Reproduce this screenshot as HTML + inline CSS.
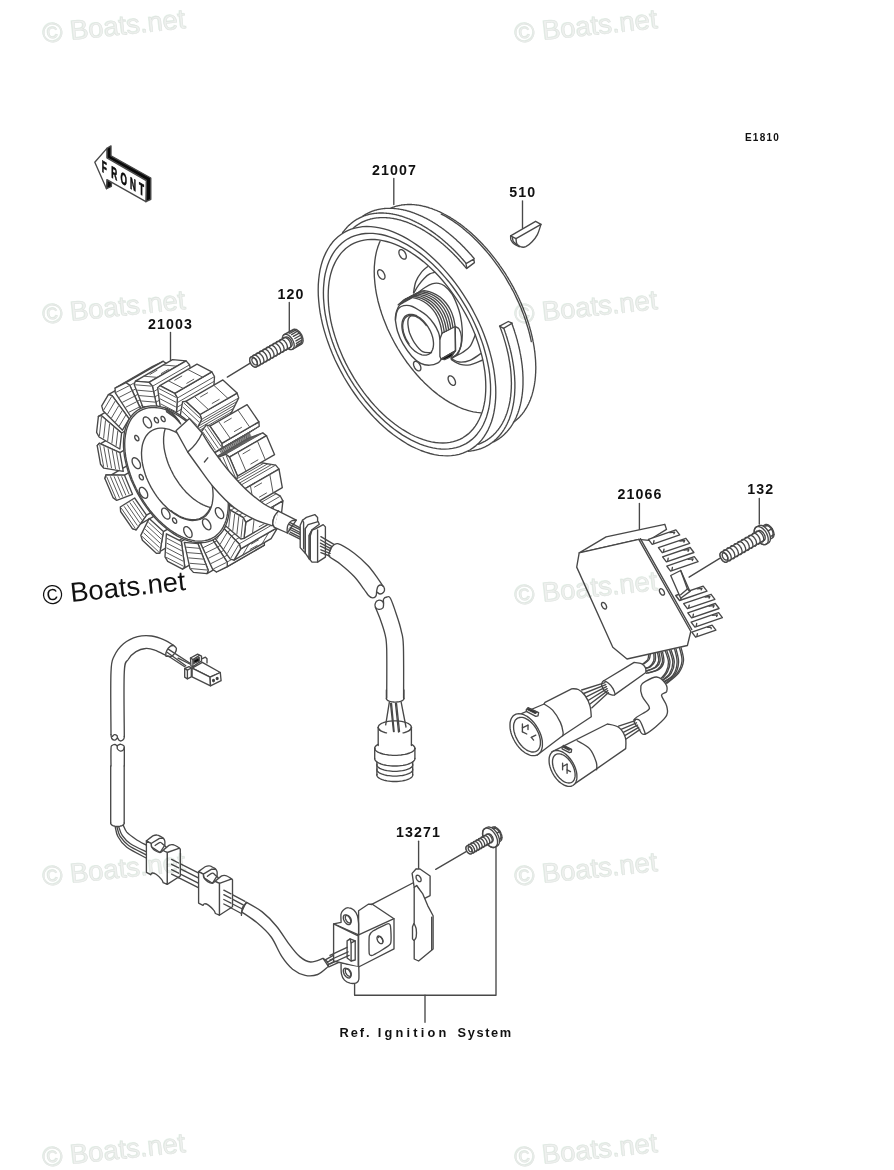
<!DOCTYPE html>
<html><head><meta charset="utf-8"><title>Generator - Parts Diagram E1810</title>
<style>
html,body{margin:0;padding:0;background:#fff;}
body{width:894px;height:1170px;overflow:hidden;position:relative;font-family:"Liberation Sans",sans-serif;}
svg{position:absolute;left:0;top:0;display:block}
svg path, svg ellipse, svg circle, svg line, svg polygon, svg polyline, svg rect{fill:none;stroke:#484848;stroke-width:1.35;stroke-linecap:round;stroke-linejoin:round}
svg .w{fill:#fff}
svg .h{stroke-width:1;stroke:#5a5a5a}
svg .k{fill:#0a0a0a}
svg text{fill:#111;stroke:none}
svg .ts{font-family:"Liberation Sans",sans-serif}
svg .tm{font-family:"Liberation Mono",monospace}
.wm{position:absolute;mix-blend-mode:multiply;font-size:27.4px;color:#eef0ee;-webkit-text-stroke:0.6px #dfe4e0;white-space:nowrap;transform-origin:0 100%;transform:rotate(-6deg);line-height:1;text-shadow:-0.8px -0.8px 0 #e4f1e8}
.wm.dark{color:#111;text-shadow:none;-webkit-text-stroke:0}
</style></head><body>
<svg width="894" height="1170" viewBox="0 0 894 1170">
<text x="372.00 381.00 389.99 398.99 407.99" y="174.5" font-size="14.2" font-weight="bold" class="ts" >21007</text>
<text x="509.30 518.30 527.29" y="197.0" font-size="14.2" font-weight="bold" class="ts" >510</text>
<text x="277.50 286.50 295.49" y="298.5" font-size="14.2" font-weight="bold" class="ts" >120</text>
<text x="148.00 157.00 165.99 174.99 183.99" y="328.5" font-size="14.2" font-weight="bold" class="ts" >21003</text>
<text x="617.40 626.40 635.39 644.39 653.39" y="499.0" font-size="14.2" font-weight="bold" class="ts" >21066</text>
<text x="747.20 756.20 765.19" y="494.2" font-size="14.2" font-weight="bold" class="ts" >132</text>
<text x="396.00 405.00 413.99 422.99 431.99" y="836.6" font-size="14.2" font-weight="bold" class="ts" >13271</text>
<text x="745.00 752.87 759.63 766.39 773.15" y="141.2" font-size="10" font-weight="bold" class="ts" >E1810</text>
<text x="339.40 350.64 359.76 366.03" y="1036.5" font-size="12.8" font-weight="bold" class="ts" >Ref.</text>
<text x="377.70 384.46 395.47 406.49 413.25 420.71 427.47 438.49" y="1036.5" font-size="12.8" font-weight="bold" class="ts" >Ignition</text>
<text x="457.50 467.68 476.44 485.20 491.10 499.86" y="1036.5" font-size="12.8" font-weight="bold" class="ts" >System</text>
<path d="M393.8 178.5 L393.8 204.5"/>
<path d="M469.8 450.0 L466.4 451.7 L462.9 453.2 L459.2 454.3 L455.4 455.1 L451.4 455.7 L447.3 455.9 L443.1 455.7 L438.8 455.3 L434.4 454.6 L430.0 453.5 L425.5 452.2 L420.9 450.5 L416.3 448.5 L411.6 446.3 L407.0 443.8 L402.4 440.9 L397.7 437.8 L393.1 434.5 L388.5 430.9 L384.0 427.0 L379.6 422.9 L375.2 418.6 L370.9 414.0 L366.7 409.3 L362.6 404.4 L358.6 399.3 L354.8 394.0 L351.1 388.6 L347.6 383.1 L344.2 377.5 L341.0 371.7 L338.0 365.9 L335.1 360.0 L332.5 354.1 L330.1 348.1 L327.9 342.1 L325.9 336.1 L324.1 330.1 L322.5 324.1 L321.2 318.2 L320.1 312.4 L319.3 306.6 L318.7 300.9 L318.3 295.4 L318.2 289.9 L318.3 284.6 L318.7 279.5 L319.3 274.5 L320.1 269.7 L321.2 265.1 L322.5 260.7 L324.1 256.6 L325.9 252.6 L327.9 249.0 L330.1 245.5 L332.5 242.3 L335.1 239.4 L338.0 236.8 L341.0 234.5 L344.2 232.4 L347.6 230.7 L351.1 229.2 L354.8 228.1 L358.6 227.3 L362.6 226.7 L366.7 226.5 L370.9 226.7 L375.2 227.1 L379.6 227.8 L384.0 228.9 L388.5 230.2 L393.1 231.9 L397.7 233.9 L402.4 236.1 L407.0 238.6 L411.6 241.5 L416.3 244.6 L420.9 247.9 L425.5 251.5 L430.0 255.4 L434.4 259.5 L438.8 263.8 L443.1 268.4 L447.3 273.1 L451.4 278.0 L455.4 283.1 L459.2 288.4 L462.9 293.8 L466.4 299.3 L469.8 304.9 L473.0 310.7 L476.0 316.5 L478.9 322.4 L481.5 328.3 L483.9 334.3 L486.1 340.3 L488.1 346.3 L489.9 352.3 L491.5 358.3 L492.8 364.2 L493.9 370.0 L494.7 375.8 L495.3 381.5 L495.7 387.0 L495.8 392.5 L495.7 397.8 L495.3 402.9 L494.7 407.9 L493.9 412.7 L492.8 417.3 L491.5 421.7 L489.9 425.8 L488.1 429.8 L486.1 433.4 L483.9 436.9 L481.5 440.1 L478.9 443.0 L476.0 445.6 L473.0 447.9 L469.8 450.0 Z"/>
<path d="M466.1 443.6 L462.9 445.2 L459.6 446.6 L456.1 447.6 L452.5 448.4 L448.8 448.9 L444.9 449.1 L441.0 449.0 L437.0 448.6 L432.8 447.9 L428.6 446.9 L424.4 445.6 L420.1 444.1 L415.7 442.2 L411.4 440.1 L407.0 437.7 L402.6 435.1 L398.3 432.1 L393.9 429.0 L389.6 425.6 L385.4 421.9 L381.2 418.1 L377.0 414.0 L373.0 409.7 L369.1 405.3 L365.2 400.7 L361.5 395.9 L357.9 390.9 L354.4 385.8 L351.1 380.6 L347.9 375.3 L344.9 369.9 L342.0 364.4 L339.4 358.9 L336.9 353.3 L334.6 347.7 L332.5 342.0 L330.6 336.4 L329.0 330.7 L327.5 325.1 L326.3 319.6 L325.2 314.1 L324.4 308.6 L323.9 303.3 L323.5 298.1 L323.4 292.9 L323.5 288.0 L323.9 283.1 L324.4 278.4 L325.2 273.9 L326.3 269.6 L327.5 265.5 L329.0 261.6 L330.6 257.9 L332.5 254.4 L334.6 251.2 L336.9 248.2 L339.4 245.4 L342.0 243.0 L344.9 240.8 L347.9 238.8 L351.1 237.2 L354.4 235.8 L357.9 234.8 L361.5 234.0 L365.2 233.5 L369.1 233.3 L373.0 233.4 L377.0 233.8 L381.2 234.5 L385.4 235.5 L389.6 236.8 L393.9 238.3 L398.3 240.2 L402.6 242.3 L407.0 244.7 L411.4 247.3 L415.7 250.3 L420.1 253.4 L424.4 256.8 L428.6 260.5 L432.8 264.3 L437.0 268.4 L441.0 272.7 L444.9 277.1 L448.8 281.7 L452.5 286.5 L456.1 291.5 L459.6 296.6 L462.9 301.8 L466.1 307.1 L469.1 312.5 L472.0 318.0 L474.6 323.5 L477.1 329.1 L479.4 334.7 L481.5 340.4 L483.4 346.0 L485.0 351.7 L486.5 357.3 L487.7 362.8 L488.8 368.3 L489.6 373.8 L490.1 379.1 L490.5 384.3 L490.6 389.5 L490.5 394.4 L490.1 399.3 L489.6 404.0 L488.8 408.5 L487.7 412.8 L486.5 416.9 L485.0 420.8 L483.4 424.5 L481.5 428.0 L479.4 431.2 L477.1 434.2 L474.6 437.0 L472.0 439.4 L469.1 441.6 L466.1 443.6 Z"/>
<path d="M462.8 437.8 L459.8 439.3 L456.6 440.6 L453.3 441.6 L449.9 442.3 L446.4 442.8 L442.8 443.0 L439.1 442.9 L435.3 442.5 L431.4 441.8 L427.4 440.9 L423.4 439.7 L419.3 438.2 L415.2 436.5 L411.1 434.5 L407.0 432.2 L402.9 429.7 L398.8 427.0 L394.7 424.0 L390.6 420.8 L386.6 417.4 L382.6 413.7 L378.7 409.9 L374.9 405.9 L371.2 401.7 L367.6 397.3 L364.1 392.8 L360.7 388.1 L357.4 383.3 L354.2 378.4 L351.3 373.4 L348.4 368.3 L345.7 363.1 L343.2 357.9 L340.9 352.6 L338.7 347.3 L336.8 342.0 L335.0 336.6 L333.4 331.3 L332.0 326.0 L330.8 320.8 L329.9 315.6 L329.1 310.5 L328.6 305.4 L328.3 300.5 L328.2 295.7 L328.3 291.0 L328.6 286.4 L329.1 282.0 L329.9 277.7 L330.8 273.7 L332.0 269.8 L333.4 266.1 L335.0 262.6 L336.8 259.3 L338.7 256.3 L340.9 253.4 L343.2 250.9 L345.7 248.5 L348.4 246.5 L351.2 244.6 L354.2 243.1 L357.4 241.8 L360.7 240.8 L364.1 240.1 L367.6 239.6 L371.2 239.4 L374.9 239.5 L378.7 239.9 L382.6 240.6 L386.6 241.5 L390.6 242.7 L394.7 244.2 L398.8 245.9 L402.9 247.9 L407.0 250.2 L411.1 252.7 L415.2 255.4 L419.3 258.4 L423.4 261.6 L427.4 265.0 L431.4 268.7 L435.3 272.5 L439.1 276.5 L442.8 280.7 L446.4 285.1 L449.9 289.6 L453.3 294.3 L456.6 299.1 L459.8 304.0 L462.7 309.0 L465.6 314.1 L468.3 319.3 L470.8 324.5 L473.1 329.8 L475.3 335.1 L477.2 340.4 L479.0 345.8 L480.6 351.1 L482.0 356.4 L483.2 361.6 L484.1 366.8 L484.9 371.9 L485.4 377.0 L485.7 381.9 L485.8 386.7 L485.7 391.4 L485.4 396.0 L484.9 400.4 L484.1 404.7 L483.2 408.7 L482.0 412.6 L480.6 416.3 L479.0 419.8 L477.2 423.1 L475.3 426.1 L473.1 429.0 L470.8 431.5 L468.3 433.9 L465.6 435.9 L462.8 437.8 Z"/>
<path d="M353.1 228.2 L353.5 227.9 L354.0 227.5 L354.4 227.1 L354.8 226.8 L355.3 226.4 L355.8 226.1 L356.2 225.7 L356.7 225.4 L357.1 225.1 L357.6 224.8 L358.1 224.5 L358.6 224.2 L359.1 223.9 L359.5 223.6 L360.0 223.3 L360.5 223.0 L361.0 222.7 L361.5 222.5 L362.0 222.2 L362.6 222.0 L363.1 221.7 L363.6 221.5 L364.1 221.3 L364.6 221.0 L365.2 220.8 L365.7 220.6 L366.2 220.4 L366.8 220.2 L367.3 220.0 L367.9 219.8 L368.4 219.7 L369.0 219.5 L369.5 219.3 L370.1 219.2 L370.6 219.0 L371.2 218.9 L371.8 218.8 L372.4 218.6 L372.9 218.5 L373.5 218.4 L374.1 218.3 L374.7 218.2 L375.3 218.1 L375.9 218.0 L376.4 217.9 L377.0 217.9 L377.6 217.8 L378.2 217.8 L378.8 217.7 L379.5 217.7 L380.1 217.6 L380.7 217.6 L381.3 217.6 L381.9 217.6 L382.5 217.6 L383.1 217.6 L383.8 217.6 L384.4 217.6 L385.0 217.6 L385.7 217.6 L386.3 217.7 L386.9 217.7 L387.6 217.8 L388.2 217.8 L388.9 217.9 L389.5 217.9 L390.1 218.0 L390.8 218.1 L391.4 218.2 L392.1 218.3 L392.7 218.4 L393.4 218.5 L394.1 218.6 L394.7 218.8 L395.4 218.9 L396.0 219.0 L396.7 219.2 L397.4 219.3 L398.0 219.5 L398.7 219.7 L399.4 219.8 L400.1 220.0 L400.7 220.2 L401.4 220.4 L402.1 220.6 L402.8 220.8 L403.4 221.0 L404.1 221.3 L404.8 221.5 L405.5 221.7 L406.2 222.0 L406.9 222.2 L407.5 222.5 L408.2 222.7 L408.9 223.0 L409.6 223.3 L410.3 223.6 L411.0 223.9 L411.7 224.2 L412.4 224.5 L413.0 224.8 L413.7 225.1 L414.4 225.4 L415.1 225.7 L415.8 226.1 L416.5 226.4 L417.2 226.8 L417.9 227.1 L418.6 227.5 L419.3 227.9 L420.0 228.2 L420.7 228.6 L421.4 229.0 L422.1 229.4 L422.8 229.8 L423.5 230.2 L424.2 230.6 L424.9 231.0 L425.6 231.5 L426.2 231.9 L426.9 232.3 L427.6 232.8 L428.3 233.2 L429.0 233.7 L429.7 234.1 L430.4 234.6 L431.1 235.1 L431.8 235.6 L432.5 236.0 L433.2 236.5 L433.9 237.0 L434.6 237.5 L435.2 238.0 L435.9 238.6 L436.6 239.1 L437.3 239.6 L438.0 240.1 L438.7 240.7 L439.4 241.2 L440.0 241.8 L440.7 242.3 L441.4 242.9 L442.1 243.5 L442.8 244.0 L443.4 244.6 L444.1 245.2 L444.8 245.8 L445.5 246.4 L446.1 247.0 L446.8 247.6 L447.5 248.2 L448.1 248.8 L448.8 249.4 L449.5 250.0 L450.1 250.7 L450.8 251.3 L451.4 251.9 L452.1 252.6 L452.8 253.2 L453.4 253.9 L454.1 254.5 L454.7 255.2 L455.4 255.9 L456.0 256.5 L456.7 257.2 L457.3 257.9 L457.9 258.6 L458.6 259.3 L459.2 260.0 L459.8 260.7 L460.5 261.4 L461.1 262.1 L461.7 262.8 L462.3 263.5 L463.0 264.2 L463.6 265.0 L464.2 265.7 L464.8 266.4 L465.4 267.2 L466.0 267.9 L466.6 268.6"/>
<path d="M342.6 232.7 L342.9 232.2 L343.3 231.7 L343.7 231.2 L344.0 230.8 L344.4 230.3 L344.8 229.8 L345.2 229.3 L345.6 228.9 L346.0 228.4 L346.4 228.0 L346.8 227.5 L347.2 227.1 L347.6 226.7 L348.0 226.2 L348.4 225.8 L348.9 225.4 L349.3 225.0 L349.7 224.6 L350.2 224.2 L350.6 223.8 L351.1 223.5 L351.5 223.1 L352.0 222.7 L352.4 222.4 L352.9 222.0 L353.4 221.7 L353.8 221.3 L354.3 221.0 L354.8 220.7 L355.3 220.3 L355.8 220.0 L356.3 219.7 L356.7 219.4 L357.2 219.1 L357.8 218.8 L358.3 218.6 L358.8 218.3 L359.3 218.0 L359.8 217.8 L360.3 217.5 L360.9 217.3 L361.4 217.0 L361.9 216.8 L362.5 216.6 L363.0 216.3 L363.5 216.1 L364.1 215.9 L364.6 215.7 L365.2 215.5 L365.8 215.3 L366.3 215.2 L366.9 215.0 L367.5 214.8 L368.0 214.7 L368.6 214.5 L369.2 214.4 L369.8 214.2 L370.3 214.1 L370.9 214.0 L371.5 213.9 L372.1 213.8 L372.7 213.7 L373.3 213.6 L373.9 213.5 L374.5 213.4 L375.1 213.3 L375.7 213.3 L376.4 213.2 L377.0 213.2 L377.6 213.1 L378.2 213.1 L378.8 213.0 L379.5 213.0 L380.1 213.0 L380.7 213.0 L381.4 213.0 L382.0 213.0 L382.6 213.0 L383.3 213.0 L383.9 213.1 L384.6 213.1 L385.2 213.1 L385.9 213.2 L386.5 213.2 L387.2 213.3 L387.8 213.4 L388.5 213.4 L389.2 213.5 L389.8 213.6 L390.5 213.7 L391.2 213.8 L391.8 213.9 L392.5 214.0 L393.2 214.2 L393.9 214.3 L394.5 214.4 L395.2 214.6 L395.9 214.7 L396.6 214.9 L397.2 215.1 L397.9 215.2 L398.6 215.4 L399.3 215.6 L400.0 215.8 L400.7 216.0 L401.4 216.2 L402.1 216.4 L402.8 216.6 L403.5 216.9 L404.2 217.1 L404.8 217.3 L405.5 217.6 L406.2 217.8 L406.9 218.1 L407.6 218.4 L408.3 218.7 L409.1 218.9 L409.8 219.2 L410.5 219.5 L411.2 219.8 L411.9 220.1 L412.6 220.4 L413.3 220.8 L414.0 221.1 L414.7 221.4 L415.4 221.8 L416.1 222.1 L416.8 222.5 L417.5 222.8 L418.2 223.2 L419.0 223.6 L419.7 224.0 L420.4 224.4 L421.1 224.7 L421.8 225.1 L422.5 225.6 L423.2 226.0 L423.9 226.4 L424.6 226.8 L425.3 227.2 L426.1 227.7 L426.8 228.1 L427.5 228.6 L428.2 229.0 L428.9 229.5 L429.6 230.0 L430.3 230.4 L431.0 230.9 L431.7 231.4 L432.4 231.9 L433.1 232.4 L433.8 232.9 L434.6 233.4 L435.3 233.9 L436.0 234.5 L436.7 235.0 L437.4 235.5 L438.1 236.1 L438.8 236.6 L439.5 237.1 L440.2 237.7 L440.9 238.3 L441.6 238.8 L442.3 239.4 L442.9 240.0 L443.6 240.6 L444.3 241.2 L445.0 241.8 L445.7 242.4 L446.4 243.0 L447.1 243.6 L447.8 244.2 L448.4 244.8 L449.1 245.4 L449.8 246.1 L450.5 246.7 L451.2 247.3 L451.8 248.0 L452.5 248.6 L453.2 249.3 L453.9 250.0 L454.5 250.6 L455.2 251.3 L455.9 252.0 L456.5 252.7 L457.2 253.3 L457.8 254.0 L458.5 254.7 L459.1 255.4 L459.8 256.1 L460.4 256.8 L461.1 257.6 L461.7 258.3 L462.4 259.0 L463.0 259.7 L463.7 260.5 L464.3 261.2 L464.9 261.9 L465.6 262.7 L466.2 263.4"/>
<path d="M363.1 215.8 L363.6 215.5 L364.0 215.3 L364.4 215.0 L364.8 214.8 L365.2 214.5 L365.7 214.3 L366.1 214.0 L366.5 213.8 L367.0 213.5 L367.4 213.3 L367.9 213.1 L368.3 212.9 L368.8 212.7 L369.2 212.5 L369.7 212.3 L370.1 212.1 L370.6 211.9 L371.0 211.7 L371.5 211.5 L372.0 211.3 L372.4 211.2 L372.9 211.0 L373.4 210.8 L373.8 210.7 L374.3 210.5 L374.8 210.4 L375.3 210.2 L375.8 210.1 L376.3 210.0 L376.8 209.8 L377.2 209.7 L377.7 209.6 L378.2 209.5 L378.7 209.4 L379.2 209.3 L379.7 209.2 L380.2 209.1 L380.8 209.0 L381.3 208.9 L381.8 208.8 L382.3 208.8 L382.8 208.7 L383.3 208.6 L383.8 208.6 L384.4 208.5 L384.9 208.5 L385.4 208.4 L386.0 208.4 L386.5 208.4 L387.0 208.4 L387.5 208.3 L388.1 208.3 L388.6 208.3 L389.2 208.3 L389.7 208.3 L390.2 208.3 L390.8 208.3 L391.3 208.3 L391.9 208.4 L392.4 208.4 L393.0 208.4 L393.5 208.4 L394.1 208.5 L394.7 208.5 L395.2 208.6 L395.8 208.6 L396.3 208.7 L396.9 208.8 L397.5 208.8 L398.0 208.9 L398.6 209.0 L399.2 209.1 L399.7 209.2 L400.3 209.3 L400.9 209.4 L401.4 209.5 L402.0 209.6 L402.6 209.7 L403.2 209.8 L403.8 210.0 L404.3 210.1 L404.9 210.2 L405.5 210.4 L406.1 210.5 L406.7 210.7 L407.2 210.8 L407.8 211.0 L408.4 211.2 L409.0 211.4 L409.6 211.5 L410.2 211.7 L410.8 211.9 L411.4 212.1 L412.0 212.3 L412.6 212.5 L413.1 212.7 L413.7 212.9 L414.3 213.1 L414.9 213.4 L415.5 213.6 L416.1 213.8 L416.7 214.1 L417.3 214.3 L417.9 214.5 L418.5 214.8 L419.1 215.1 L419.7 215.3 L420.3 215.6 L420.9 215.9 L421.5 216.1 L422.1 216.4 L422.7 216.7 L423.3 217.0 L423.9 217.3 L424.5 217.6 L425.1 217.9 L425.8 218.2 L426.4 218.5 L427.0 218.8 L427.6 219.1 L428.2 219.5 L428.8 219.8 L429.4 220.1 L430.0 220.5 L430.6 220.8 L431.2 221.2 L431.8 221.5 L432.4 221.9 L433.0 222.3 L433.6 222.6 L434.2 223.0 L434.8 223.4 L435.4 223.8 L436.0 224.2 L436.6 224.5 L437.2 224.9 L437.8 225.3 L438.5 225.7 L439.1 226.2 L439.7 226.6 L440.3 227.0 L440.9 227.4 L441.5 227.8 L442.1 228.3 L442.7 228.7 L443.3 229.1 L443.9 229.6 L444.5 230.0 L445.1 230.5 L445.7 230.9 L446.3 231.4 L446.9 231.9 L447.4 232.3 L448.0 232.8 L448.6 233.3 L449.2 233.8 L449.8 234.2 L450.4 234.7 L451.0 235.2 L451.6 235.7 L452.2 236.2 L452.8 236.7 L453.4 237.2 L453.9 237.8 L454.5 238.3 L455.1 238.8 L455.7 239.3 L456.3 239.8 L456.9 240.4 L457.4 240.9 L458.0 241.4 L458.6 242.0 L459.2 242.5 L459.7 243.1 L460.3 243.6 L460.9 244.2 L461.5 244.8 L462.0 245.3 L462.6 245.9 L463.2 246.5 L463.7 247.0 L464.3 247.6 L464.9 248.2 L465.4 248.8 L466.0 249.4 L466.5 250.0 L467.1 250.6 L467.7 251.2 L468.2 251.8 L468.8 252.4 L469.3 253.0 L469.9 253.6 L470.4 254.2 L471.0 254.8 L471.5 255.4 L472.0 256.1 L472.6 256.7 L473.1 257.3 L473.7 257.9 L474.2 258.6"/>
<path d="M499.8 326.2 L500.2 327.2 L500.5 328.2 L500.9 329.2 L501.3 330.2 L501.6 331.2 L502.0 332.2 L502.3 333.2 L502.7 334.2 L503.0 335.1 L503.3 336.1 L503.6 337.1 L503.9 338.1 L504.2 339.1 L504.5 340.1 L504.8 341.1 L505.1 342.1 L505.4 343.1 L505.7 344.1 L505.9 345.1 L506.2 346.1 L506.5 347.1 L506.7 348.1 L507.0 349.0 L507.2 350.0 L507.4 351.0 L507.7 352.0 L507.9 353.0 L508.1 353.9 L508.3 354.9 L508.5 355.9 L508.7 356.9 L508.9 357.8 L509.0 358.8 L509.2 359.8 L509.4 360.8 L509.5 361.7 L509.7 362.7 L509.8 363.6 L510.0 364.6 L510.1 365.5 L510.2 366.5 L510.4 367.5 L510.5 368.4 L510.6 369.3 L510.7 370.3 L510.8 371.2 L510.9 372.2 L510.9 373.1 L511.0 374.0 L511.1 374.9 L511.1 375.9 L511.2 376.8 L511.2 377.7 L511.3 378.6 L511.3 379.5 L511.3 380.4 L511.3 381.3 L511.4 382.2 L511.4 383.1 L511.4 384.0 L511.4 384.9 L511.3 385.8 L511.3 386.7 L511.3 387.5 L511.3 388.4 L511.2 389.3 L511.2 390.1 L511.1 391.0 L511.1 391.9 L511.0 392.7 L510.9 393.5 L510.8 394.4 L510.8 395.2 L510.7 396.0 L510.6 396.9 L510.4 397.7 L510.3 398.5 L510.2 399.3 L510.1 400.1 L510.0 400.9 L509.8 401.7 L509.7 402.5 L509.5 403.3 L509.3 404.1 L509.2 404.8 L509.0 405.6 L508.8 406.4 L508.6 407.1 L508.4 407.9 L508.2 408.6 L508.0 409.4 L507.8 410.1 L507.6 410.8 L507.4 411.6 L507.2 412.3 L506.9 413.0 L506.7 413.7 L506.4 414.4 L506.2 415.1 L505.9 415.8 L505.6 416.4 L505.4 417.1 L505.1 417.8 L504.8 418.4 L504.5 419.1 L504.2 419.7 L503.9 420.4 L503.6 421.0 L503.2 421.6 L502.9 422.3 L502.6 422.9 L502.3 423.5 L501.9 424.1 L501.6 424.7 L501.2 425.3 L500.8 425.8 L500.5 426.4 L500.1 427.0 L499.7 427.5 L499.3 428.1 L498.9 428.6 L498.6 429.2 L498.2 429.7 L497.7 430.2 L497.3 430.7 L496.9 431.2 L496.5 431.7 L496.1 432.2 L495.6 432.7 L495.2 433.2 L494.7 433.7 L494.3 434.1 L493.8 434.6 L493.4 435.0 L492.9 435.4 L492.4 435.9 L491.9 436.3 L491.4 436.7 L491.0 437.1 L490.5 437.5 L490.0 437.9 L489.5 438.3 L489.0 438.7 L488.4 439.0 L487.9 439.4 L487.4 439.7 L486.9 440.1 L486.3 440.4 L485.8 440.7 L485.2 441.1 L484.7 441.4 L484.1 441.7 L483.6 442.0 L483.0 442.2 L482.4 442.5 L481.9 442.8 L481.3 443.0 L480.7 443.3 L480.1 443.5 L479.5 443.8 L479.0 444.0 L478.4 444.2"/>
<path d="M503.7 328.3 L504.1 329.3 L504.5 330.3 L504.9 331.4 L505.2 332.4 L505.6 333.4 L505.9 334.4 L506.2 335.5 L506.6 336.5 L506.9 337.5 L507.2 338.5 L507.5 339.6 L507.8 340.6 L508.1 341.6 L508.4 342.6 L508.7 343.6 L509.0 344.7 L509.3 345.7 L509.6 346.7 L509.8 347.7 L510.1 348.7 L510.3 349.7 L510.6 350.7 L510.8 351.8 L511.0 352.8 L511.3 353.8 L511.5 354.8 L511.7 355.8 L511.9 356.8 L512.1 357.8 L512.3 358.8 L512.5 359.8 L512.6 360.8 L512.8 361.8 L513.0 362.8 L513.1 363.8 L513.3 364.7 L513.4 365.7 L513.6 366.7 L513.7 367.7 L513.8 368.7 L513.9 369.6 L514.1 370.6 L514.2 371.6 L514.3 372.5 L514.3 373.5 L514.4 374.5 L514.5 375.4 L514.6 376.4 L514.6 377.3 L514.7 378.3 L514.7 379.2 L514.8 380.2 L514.8 381.1 L514.9 382.0 L514.9 383.0 L514.9 383.9 L514.9 384.8 L514.9 385.7 L514.9 386.6 L514.9 387.5 L514.9 388.4 L514.8 389.3 L514.8 390.2 L514.8 391.1 L514.7 392.0 L514.7 392.9 L514.6 393.8 L514.6 394.7 L514.5 395.5 L514.4 396.4 L514.3 397.3 L514.2 398.1 L514.1 399.0 L514.0 399.8 L513.9 400.7 L513.8 401.5 L513.7 402.3 L513.5 403.1 L513.4 404.0 L513.2 404.8 L513.1 405.6 L512.9 406.4 L512.7 407.2 L512.6 408.0 L512.4 408.8 L512.2 409.6 L512.0 410.3 L511.8 411.1 L511.6 411.9 L511.4 412.6 L511.2 413.4 L510.9 414.1 L510.7 414.9 L510.5 415.6 L510.2 416.3 L510.0 417.1 L509.7 417.8 L509.5 418.5 L509.2 419.2 L508.9 419.9 L508.6 420.6 L508.3 421.3 L508.0 421.9 L507.7 422.6 L507.4 423.3 L507.1 423.9 L506.8 424.6 L506.4 425.2 L506.1 425.9 L505.8 426.5 L505.4 427.1 L505.1 427.7 L504.7 428.3 L504.3 429.0 L504.0 429.5 L503.6 430.1 L503.2 430.7 L502.8 431.3 L502.4 431.9 L502.0 432.4 L501.6 433.0 L501.2 433.5 L500.8 434.0 L500.4 434.6 L499.9 435.1 L499.5 435.6 L499.1 436.1 L498.6 436.6 L498.2 437.1 L497.7 437.6 L497.2 438.1 L496.8 438.5 L496.3 439.0 L495.8 439.4 L495.3 439.9 L494.8 440.3 L494.3 440.7 L493.8 441.2 L493.3 441.6 L492.8 442.0 L492.3 442.4 L491.8 442.8 L491.2 443.1 L490.7 443.5 L490.2 443.9 L489.6 444.2 L489.1 444.6 L488.5 444.9 L488.0 445.3 L487.4 445.6 L486.8 445.9 L486.3 446.2 L485.7 446.5 L485.1 446.8 L484.5 447.1 L483.9 447.3 L483.3 447.6 L482.7 447.8 L482.1 448.1 L481.5 448.3 L480.9 448.6 L480.3 448.8 L479.7 449.0 L479.1 449.2 L478.4 449.4 L477.8 449.6 L477.2 449.7 L476.5 449.9 L475.9 450.1 L475.2 450.2 L474.6 450.4 L473.9 450.5 L473.2 450.6 L472.6 450.7 L471.9 450.8 L471.2 450.9 L470.6 451.0 L469.9 451.1 L469.2 451.2 L468.5 451.2"/>
<path d="M511.7 323.2 L512.0 324.0 L512.3 324.8 L512.6 325.6 L512.9 326.4 L513.2 327.2 L513.4 327.9 L513.7 328.7 L514.0 329.5 L514.2 330.3 L514.5 331.1 L514.7 331.9 L515.0 332.7 L515.2 333.5 L515.5 334.2 L515.7 335.0 L516.0 335.8 L516.2 336.6 L516.4 337.4 L516.6 338.2 L516.9 338.9 L517.1 339.7 L517.3 340.5 L517.5 341.3 L517.7 342.1 L517.9 342.9 L518.1 343.6 L518.3 344.4 L518.5 345.2 L518.7 346.0 L518.9 346.7 L519.0 347.5 L519.2 348.3 L519.4 349.1 L519.6 349.8 L519.7 350.6 L519.9 351.4 L520.0 352.2 L520.2 352.9 L520.3 353.7 L520.5 354.5 L520.6 355.2 L520.8 356.0 L520.9 356.8 L521.0 357.5 L521.1 358.3 L521.3 359.0 L521.4 359.8 L521.5 360.6 L521.6 361.3 L521.7 362.1 L521.8 362.8 L521.9 363.6 L522.0 364.3 L522.1 365.1 L522.2 365.8 L522.3 366.6 L522.3 367.3 L522.4 368.0 L522.5 368.8 L522.5 369.5 L522.6 370.3 L522.7 371.0 L522.7 371.7 L522.8 372.4 L522.8 373.2 L522.8 373.9 L522.9 374.6 L522.9 375.3 L522.9 376.1 L523.0 376.8 L523.0 377.5 L523.0 378.2 L523.0 378.9 L523.0 379.6 L523.0 380.3 L523.0 381.0 L523.0 381.7 L523.0 382.4 L523.0 383.1 L523.0 383.8 L523.0 384.5 L523.0 385.2 L522.9 385.9 L522.9 386.6 L522.9 387.3 L522.8 388.0 L522.8 388.6 L522.7 389.3 L522.7 390.0 L522.6 390.6 L522.6 391.3 L522.5 392.0 L522.4 392.6 L522.4 393.3 L522.3 393.9 L522.2 394.6 L522.1 395.2 L522.0 395.9 L521.9 396.5 L521.9 397.2 L521.8 397.8 L521.6 398.4 L521.5 399.1 L521.4 399.7 L521.3 400.3 L521.2 401.0 L521.1 401.6 L520.9 402.2 L520.8 402.8 L520.7 403.4 L520.5 404.0 L520.4 404.6 L520.3 405.2 L520.1 405.8 L519.9 406.4 L519.8 407.0 L519.6 407.6 L519.5 408.2 L519.3 408.7 L519.1 409.3 L518.9 409.9 L518.8 410.4 L518.6 411.0 L518.4 411.6 L518.2 412.1 L518.0 412.7 L517.8 413.2 L517.6 413.8 L517.4 414.3 L517.2 414.8 L517.0 415.4 L516.7 415.9 L516.5 416.4 L516.3 417.0 L516.1 417.5 L515.8 418.0 L515.6 418.5 L515.3 419.0 L515.1 419.5 L514.8 420.0 L514.6 420.5 L514.3 421.0 L514.1 421.5 L513.8 422.0 L513.5 422.4 L513.3 422.9 L513.0 423.4 L512.7 423.9 L512.4 424.3 L512.2 424.8 L511.9 425.2 L511.6 425.7 L511.3 426.1 L511.0 426.6 L510.7 427.0 L510.4 427.4 L510.1 427.9 L509.7 428.3 L509.4 428.7 L509.1 429.1 L508.8 429.5 L508.5 429.9 L508.1 430.3 L507.8 430.7 L507.5 431.1 L507.1 431.5 L506.8 431.9 L506.4 432.3 L506.1 432.6 L505.7 433.0 L505.4 433.4 L505.0 433.7 L504.6 434.1 L504.3 434.4 L503.9 434.8 L503.5 435.1 L503.2 435.5 L502.8 435.8 L502.4 436.1 L502.0 436.4 L501.6 436.8 L501.2 437.1 L500.8 437.4 L500.4 437.7 L500.0 438.0 L499.6 438.3 L499.2 438.6 L498.8 438.8 L498.4 439.1 L498.0 439.4 L497.6 439.7 L497.1 439.9 L496.7 440.2 L496.3 440.4 L495.9 440.7 L495.4 440.9 L495.0 441.2 L494.6 441.4 L494.1 441.6 L493.7 441.9"/>
<path d="M466.8 268.4 L466.0 263.7 L473.8 259.2 L474.4 262.6 Z"/>
<path d="M499.6 326.2 L503.5 328.3 L512.2 323.2 L508.3 321.5 Z"/>
<path d="M390.5 208.3 L391.2 208.0 L391.9 207.7 L392.6 207.4 L393.3 207.1 L394.1 206.9 L394.8 206.6 L395.5 206.4 L396.3 206.2 L397.0 206.0 L397.8 205.8 L398.6 205.6 L399.3 205.5 L400.1 205.3 L400.9 205.2 L401.7 205.0 L402.5 204.9 L403.3 204.8 L404.1 204.7 L404.9 204.7 L405.7 204.6 L406.5 204.6 L407.4 204.5 L408.2 204.5 L409.0 204.5 L409.9 204.5 L410.7 204.5 L411.5 204.5 L412.4 204.6 L413.2 204.6 L414.1 204.7 L415.0 204.8 L415.8 204.9 L416.7 205.0 L417.6 205.1 L418.5 205.2 L419.3 205.4 L420.2 205.5 L421.1 205.7 L422.0 205.9 L422.9 206.1 L423.8 206.3 L424.7 206.5 L425.6 206.7 L426.5 207.0 L427.4 207.2 L428.3 207.5 L429.2 207.8 L430.1 208.1 L431.1 208.4 L432.0 208.7 L432.9 209.1 L433.8 209.4 L434.7 209.8 L435.7 210.1 L436.6 210.5 L437.5 210.9 L438.4 211.3 L439.4 211.7 L440.3 212.2 L441.2 212.6 L442.2 213.1 L443.1 213.5 L444.0 214.0 L445.0 214.5 L445.9 215.0 L446.8 215.5 L447.8 216.1 L448.7 216.6 L449.6 217.1 L450.6 217.7 L451.5 218.3 L452.5 218.9 L453.4 219.5 L454.3 220.1 L455.3 220.7 L456.2 221.3 L457.1 222.0 L458.0 222.6 L459.0 223.3 L459.9 223.9 L460.8 224.6 L461.8 225.3 L462.7 226.0 L463.6 226.7 L464.5 227.5 L465.4 228.2 L466.4 228.9 L467.3 229.7 L468.2 230.5 L469.1 231.2 L470.0 232.0 L470.9 232.8 L471.8 233.6 L472.7 234.4 L473.6 235.3 L474.5 236.1 L475.4 236.9 L476.3 237.8 L477.2 238.7 L478.0 239.5 L478.9 240.4 L479.8 241.3 L480.7 242.2 L481.5 243.1 L482.4 244.0 L483.3 244.9 L484.1 245.9 L485.0 246.8 L485.8 247.8 L486.7 248.7 L487.5 249.7 L488.3 250.6 L489.2 251.6 L490.0 252.6 L490.8 253.6 L491.6 254.6 L492.4 255.6 L493.2 256.6 L494.0 257.6 L494.8 258.7 L495.6 259.7 L496.4 260.8 L497.2 261.8 L498.0 262.9 L498.7 263.9 L499.5 265.0 L500.2 266.1 L501.0 267.1 L501.7 268.2 L502.5 269.3 L503.2 270.4 L503.9 271.5 L504.7 272.6 L505.4 273.7 L506.1 274.8 L506.8 276.0 L507.5 277.1 L508.1 278.2 L508.8 279.4 L509.5 280.5 L510.2 281.6 L510.8 282.8 L511.5 283.9 L512.1 285.1 L512.8 286.3 L513.4 287.4 L514.0 288.6 L514.6 289.8 L515.2 290.9 L515.8 292.1 L516.4 293.3 L517.0 294.5 L517.6 295.6 L518.1 296.8 L518.7 298.0 L519.3 299.2 L519.8 300.4 L520.3 301.6 L520.9 302.8 L521.4 304.0 L521.9 305.2 L522.4 306.4 L522.9 307.6 L523.4 308.8 L523.8 310.0 L524.3 311.2 L524.8 312.4 L525.2 313.6 L525.7 314.8 L526.1 316.0 L526.5 317.2 L526.9 318.5 L527.3 319.7 L527.7 320.9 L528.1 322.1 L528.5 323.3 L528.9 324.5 L529.2 325.7 L529.6 326.9 L529.9 328.1 L530.2 329.3 L530.6 330.5 L530.9 331.7 L531.2 332.9 L531.5 334.1 L531.8 335.3 L532.0 336.5 L532.3 337.7 L532.6 338.9 L532.8 340.0 L533.0 341.2 L533.3 342.4 L533.5 343.6 L533.7 344.8 L533.9 345.9 L534.1 347.1 L534.3 348.3 L534.4 349.4 L534.6 350.6 L534.7 351.7 L534.9 352.9 L535.0 354.0 L535.1 355.2 L535.2 356.3 L535.3 357.4 L535.4 358.5 L535.5 359.7 L535.6 360.8 L535.6 361.9 L535.7 363.0 L535.7 364.1 L535.7 365.2 L535.8 366.3 L535.8 367.4 L535.8 368.5 L535.8 369.5 L535.7 370.6 L535.7 371.7 L535.7 372.7 L535.6 373.8 L535.5 374.8 L535.5 375.8 L535.4 376.9 L535.3 377.9 L535.2 378.9 L535.1 379.9 L535.0 380.9 L534.8 381.9 L534.7 382.9 L534.5 383.9 L534.4 384.9 L534.2 385.8 L534.0 386.8 L533.8 387.7 L533.6 388.7 L533.4 389.6 L533.2 390.5 L533.0 391.4 L532.7 392.3 L532.5 393.2 L532.2 394.1 L532.0 395.0 L531.7 395.9 L531.4 396.7 L531.1 397.6 L530.8 398.4 L530.5 399.3 L530.2 400.1 L529.8 400.9 L529.5 401.7 L529.1 402.5 L528.8 403.3 L528.4 404.1 L528.0 404.8 L527.6 405.6 L527.2 406.3 L526.8 407.1 L526.4 407.8 L526.0 408.5 L525.5 409.2 L525.1 409.9 L524.6 410.6 L524.2 411.3 L523.7 412.0 L523.2 412.6 L522.8 413.2 L522.3 413.9 L521.8 414.5 L521.2 415.1 L520.7 415.7 L520.2 416.3 L519.7 416.9 L519.1 417.4 L518.6 418.0 L518.0 418.5 L517.4 419.0 L516.8 419.6 L516.3 420.1 L515.7 420.6 L515.1 421.0 L514.5 421.5 L513.8 422.0"/>
<path d="M441.3 214.1 L443.3 215.1 L445.3 216.2 L447.3 217.4 L449.3 218.6 L451.3 219.9 L453.3 221.2 L455.3 222.6 L457.3 224.0 L459.3 225.5 L461.3 227.0 L463.2 228.6 L465.2 230.2 L467.1 231.9 L469.1 233.6 L471.0 235.3 L472.9 237.1 L474.8 238.9 L476.7 240.8 L478.6 242.7 L480.5 244.7 L482.3 246.7 L484.1 248.7 L485.9 250.8 L487.7 252.9 L489.5 255.0 L491.2 257.2 L492.9 259.4 L494.6 261.6 L496.2 263.8 L497.9 266.1 L499.5 268.4 L501.1 270.8 L502.6 273.1 L504.2 275.5 L505.7 277.9 L507.1 280.4 L508.5 282.8 L510.0 285.3 L511.3 287.8 L512.7 290.3 L514.0 292.8 L515.2 295.3 L516.4 297.9 L517.6 300.4 L518.8 303.0 L519.9 305.6 L521.0 308.1 L522.0 310.7 L523.0 313.3 L524.0 315.9 L524.9 318.5 L525.8 321.1 L526.6 323.7 L527.4 326.2 L528.2 328.8 L528.9 331.4 L529.6 334.0 L530.2 336.5 L530.8 339.1 L531.3 341.6"/>
<path d="M480.7 412.8 L478.9 412.6 L477.0 412.4 L475.2 412.1 L473.3 411.8 L471.4 411.4 L469.5 410.9 L467.6 410.3 L465.6 409.7 L463.7 409.1 L461.7 408.3 L459.8 407.5 L457.8 406.7 L455.8 405.7 L453.9 404.7 L451.9 403.7 L449.9 402.6 L447.9 401.4 L445.9 400.2 L444.0 398.9 L442.0 397.5 L440.0 396.1 L438.1 394.7 L436.1 393.1 L434.2 391.6 L432.2 390.0 L430.3 388.3 L428.4 386.6 L426.5 384.8 L424.6 383.0 L422.8 381.1 L420.9 379.2 L419.1 377.2 L417.3 375.2 L415.6 373.2 L413.8 371.1 L412.1 369.0 L410.4 366.9 L408.7 364.7 L407.0 362.5 L405.4 360.2 L403.8 357.9 L402.3 355.6 L400.8 353.3 L399.3 350.9 L397.8 348.5 L396.4 346.1 L395.0 343.7 L393.7 341.2 L392.4 338.7 L391.1 336.2 L389.9 333.7 L388.7 331.2 L387.5 328.7 L386.4 326.1 L385.4 323.6 L384.4 321.1 L383.4 318.5 L382.5 315.9 L381.6 313.4 L380.8 310.8 L380.0 308.3 L379.3 305.7 L378.6 303.2 L377.9 300.7 L377.4 298.1 L376.8 295.6 L376.3 293.1 L375.9 290.6 L375.5 288.2 L375.2 285.7 L374.9 283.3 L374.7 280.9 L374.5 278.5 L374.3 276.1 L374.3 273.8 L374.2 271.5 L374.3 269.2 L374.3 267.0 L374.5 264.8 L374.7 262.6 L374.9 260.5 L375.2 258.4 L375.5 256.3 L375.9 254.3 L376.3 252.3 L376.8 250.4 L377.4 248.5 L377.9 246.7 L378.6 244.9 L379.3 243.1 L380.0 241.4"/>
<path d="M405.2 259.0 L404.5 259.2 L403.6 259.1 L402.6 258.7 L401.6 258.0 L400.7 257.1 L400.0 255.9 L399.4 254.7 L399.0 253.4 L398.9 252.2 L399.0 251.2 L399.4 250.4 L400.0 249.8 L400.7 249.6 L401.6 249.7 L402.6 250.1 L403.6 250.8 L404.5 251.7 L405.2 252.9 L405.8 254.1 L406.2 255.4 L406.3 256.6 L406.2 257.6 L405.8 258.4 L405.2 259.0 Z"/>
<path d="M383.9 279.1 L383.2 279.3 L382.3 279.2 L381.3 278.8 L380.3 278.1 L379.4 277.2 L378.7 276.0 L378.1 274.8 L377.7 273.5 L377.6 272.3 L377.7 271.3 L378.1 270.5 L378.7 269.9 L379.4 269.7 L380.3 269.8 L381.3 270.2 L382.3 270.9 L383.2 271.8 L383.9 273.0 L384.5 274.2 L384.9 275.5 L385.0 276.7 L384.9 277.7 L384.5 278.5 L383.9 279.1 Z"/>
<path d="M419.8 370.7 L419.1 370.9 L418.2 370.8 L417.2 370.4 L416.2 369.7 L415.3 368.8 L414.6 367.6 L414.0 366.4 L413.6 365.1 L413.5 363.9 L413.6 362.9 L414.0 362.1 L414.6 361.5 L415.3 361.3 L416.2 361.4 L417.2 361.8 L418.2 362.5 L419.1 363.4 L419.8 364.6 L420.4 365.8 L420.8 367.1 L420.9 368.3 L420.8 369.3 L420.4 370.1 L419.8 370.7 Z"/>
<path d="M454.4 385.2 L453.7 385.4 L452.8 385.3 L451.8 384.9 L450.8 384.2 L449.9 383.3 L449.2 382.1 L448.6 380.9 L448.2 379.6 L448.1 378.4 L448.2 377.4 L448.6 376.6 L449.2 376.0 L449.9 375.8 L450.8 375.9 L451.8 376.3 L452.8 377.0 L453.7 377.9 L454.4 379.1 L455.0 380.3 L455.4 381.6 L455.5 382.8 L455.4 383.8 L455.0 384.6 L454.4 385.2 Z"/>
<path d="M411.3 298.1 C412.4 297.2 415.7 294.6 418.0 292.8 C420.3 291.0 422.7 289.0 425.0 287.5 C427.3 286.0 429.7 284.5 432.0 283.8 C434.3 283.1 436.6 283.0 438.7 283.3 C440.8 283.6 442.1 283.9 444.3 285.7 C446.5 287.5 449.7 290.1 452.1 294.1 C454.5 298.1 457.2 305.1 458.8 309.7 C460.4 314.3 460.9 317.8 461.5 322.0 C462.1 326.2 462.4 331.0 462.3 335.0 C462.2 339.0 461.9 342.8 461.0 346.0 C460.1 349.2 458.3 352.5 456.6 354.5 C454.9 356.5 451.9 357.4 451.0 358.0"/>
<path d="M413.5 293.0 C413.9 291.1 414.4 285.4 415.8 281.8 C417.2 278.2 419.9 274.2 421.9 271.7 C423.8 269.2 426.6 267.5 427.5 266.7"/>
<path d="M414.1 292.4 C414.9 291.2 416.9 287.4 418.6 285.1 C420.3 282.8 422.2 280.3 424.1 278.4 C426.0 276.5 427.9 274.9 429.7 273.9 C431.5 272.9 433.9 272.6 434.8 272.3"/>
<path d="M455.2 326.5 C455.9 326.9 458.1 327.3 459.1 329.0 C460.1 330.7 461.1 334.0 461.4 336.8 C461.7 339.6 461.3 343.2 460.8 345.8 C460.3 348.4 459.3 350.9 458.6 352.5 C457.9 354.1 457.6 354.3 456.4 355.3 C455.2 356.3 452.1 358.1 451.3 358.7"/>
<path d="M455.8 355.9 C456.9 355.3 460.1 354.1 462.5 352.5 C464.9 350.9 467.9 349.3 470.0 346.4 C472.1 343.5 474.4 336.8 475.3 334.9"/>
<path d="M451.3 358.7 C452.6 359.2 456.0 361.7 459.1 362.0 C462.2 362.3 466.4 361.7 470.0 360.3 C473.6 358.9 478.9 354.8 480.7 353.7"/>
<path d="M451.3 359.6 C452.8 360.4 457.2 363.5 460.3 364.4 C463.4 365.3 466.3 365.5 470.0 364.8 C473.7 364.1 480.4 360.8 482.5 360.0"/>
<path d="M395.3 319.5 C395.3 319.0 395.3 317.8 395.5 316.3 C395.7 314.8 396.0 312.6 396.7 310.7 C397.4 308.8 398.2 306.6 399.5 305.1 C400.8 303.6 403.7 302.4 404.5 301.8 L411.3 298.1 C412.2 297.3 414.8 294.6 416.5 293.5 C418.2 292.4 419.8 291.6 421.3 291.2 C422.9 290.8 423.9 290.6 425.8 290.9 C427.7 291.2 430.1 291.8 432.5 292.8 C434.9 293.8 437.8 295.3 440.0 297.0 C442.2 298.7 444.2 300.8 446.0 303.0 C447.8 305.2 449.2 307.5 450.5 310.0 C451.8 312.5 452.7 315.2 453.5 318.0 C454.3 320.8 454.9 325.1 455.2 326.5 L455.5 350.8 L441.3 359.2 L441.3 359.2 C440.8 359.8 439.9 361.8 438.0 362.8 C436.1 363.8 432.6 365.1 429.7 365.2 C426.8 365.3 423.8 364.9 420.8 363.4 C417.8 361.9 414.8 359.5 411.8 356.2 C408.8 352.9 405.3 347.9 402.9 343.7 C400.5 339.5 398.8 335.2 397.5 331.2 C396.2 327.2 395.7 321.4 395.3 319.5 Z" class="w"/>
<path d="M398.2 304.8 C399.1 304.1 401.8 301.4 403.4 300.2 C405.1 299.1 406.7 298.4 408.2 297.9 C409.8 297.5 410.9 297.4 412.7 297.6 C414.6 297.9 417.1 298.5 419.4 299.5 C421.8 300.5 424.7 302.0 426.9 303.7 C429.2 305.4 431.2 307.6 432.9 309.7 C434.7 311.9 436.2 314.2 437.4 316.7 C438.7 319.2 439.6 322.0 440.4 324.7 C441.2 327.5 441.8 331.8 442.1 333.2"/>
<path d="M400.4 303.7 C401.3 302.9 403.9 300.2 405.6 299.1 C407.3 298.0 408.9 297.2 410.4 296.8 C412.0 296.4 413.0 296.2 414.9 296.5 C416.8 296.8 419.2 297.4 421.6 298.4 C424.0 299.4 426.9 300.9 429.1 302.6 C431.4 304.3 433.4 306.4 435.1 308.6 C436.9 310.8 438.4 313.1 439.6 315.6 C440.9 318.1 441.8 320.9 442.6 323.6 C443.4 326.4 444.0 330.7 444.3 332.1"/>
<path d="M402.6 302.6 C403.4 301.8 406.1 299.1 407.8 298.0 C409.4 296.8 411.0 296.1 412.6 295.7 C414.1 295.2 415.2 295.1 417.1 295.4 C418.9 295.6 421.4 296.3 423.8 297.3 C426.1 298.3 429.0 299.8 431.3 301.5 C433.5 303.2 435.5 305.3 437.3 307.5 C439.0 309.6 440.5 312.0 441.8 314.5 C443.0 317.0 444.0 319.7 444.8 322.5 C445.6 325.2 446.2 329.6 446.5 331.0"/>
<path d="M404.8 301.5 C405.6 300.7 408.3 298.0 410.0 296.9 C411.6 295.7 413.2 295.0 414.8 294.6 C416.3 294.1 417.4 294.0 419.3 294.3 C421.1 294.5 423.6 295.1 426.0 296.2 C428.3 297.2 431.2 298.7 433.5 300.4 C435.7 302.1 437.7 304.2 439.5 306.4 C441.2 308.5 442.7 310.9 444.0 313.4 C445.2 315.9 446.2 318.6 447.0 321.4 C447.7 324.1 448.4 328.4 448.7 329.9"/>
<path d="M406.9 300.3 C407.8 299.6 410.5 296.9 412.1 295.7 C413.8 294.6 415.4 293.9 416.9 293.4 C418.5 293.0 419.6 292.9 421.4 293.1 C423.3 293.4 425.8 294.0 428.1 295.0 C430.5 296.1 433.4 297.5 435.6 299.2 C437.9 300.9 439.9 303.1 441.6 305.2 C443.4 307.4 444.9 309.7 446.1 312.2 C447.4 314.7 448.4 317.5 449.1 320.2 C449.9 323.0 450.6 327.3 450.8 328.7"/>
<path d="M409.1 299.2 C410.0 298.5 412.7 295.8 414.3 294.6 C416.0 293.5 417.6 292.8 419.1 292.3 C420.7 291.9 421.8 291.8 423.6 292.0 C425.5 292.3 428.0 292.9 430.3 293.9 C432.7 294.9 435.6 296.4 437.8 298.1 C440.1 299.8 442.1 302.0 443.8 304.1 C445.6 306.3 447.1 308.6 448.3 311.1 C449.6 313.6 450.5 316.4 451.3 319.1 C452.1 321.9 452.7 326.2 453.0 327.6"/>
<path d="M395.6 319.5 C395.7 318.6 395.8 315.8 396.2 314.1 C396.6 312.5 397.0 310.9 397.8 309.6 C398.6 308.3 399.7 307.2 401.2 306.5 C402.7 305.8 404.9 305.4 406.8 305.4 C408.7 305.4 410.3 305.7 412.4 306.5 C414.4 307.3 416.7 308.7 419.1 310.2 C421.5 311.7 424.2 313.3 426.7 315.6 C429.2 317.9 432.0 321.2 434.0 324.0 C436.0 326.8 437.5 329.9 438.5 332.4 C439.5 334.9 439.7 338.0 439.9 339.1"/>
<path d="M442.1 333.2 L439.9 339.1 L439.9 356.4 L441.3 359.2"/>
<path d="M442.1 333.2 L455.2 326.5 L455.5 350.8 L441.3 359.2"/>
<path d="M441.3 359.2 L455.2 351.1 L451.5 356.5 L444.6 359.6 Z" class="k"/>
<path d="M428.9 354.1 L427.7 354.7 L426.3 355.1 L424.9 355.2 L423.4 355.1 L421.8 354.8 L420.2 354.2 L418.5 353.5 L416.9 352.5 L415.2 351.4 L413.6 350.0 L412.0 348.5 L410.5 346.9 L409.1 345.1 L407.7 343.2 L406.5 341.2 L405.4 339.2 L404.4 337.0 L403.6 334.9 L402.9 332.8 L402.4 330.7 L402.1 328.6 L401.9 326.6 L401.9 324.7 L402.1 322.9 L402.4 321.2 L402.9 319.7 L403.6 318.3 L404.4 317.1 L405.4 316.1 L406.5 315.4 L407.7 314.8 L409.1 314.4 L410.5 314.3 L412.0 314.4 L413.6 314.7 L415.2 315.3 L416.9 316.0 L418.5 317.0 L420.2 318.1 L421.8 319.5 L423.4 321.0 L424.9 322.6 L426.3 324.4 L427.7 326.3 L428.9 328.3 L430.0 330.3 L431.0 332.5 L431.8 334.6 L432.5 336.7 L433.0 338.8 L433.3 340.9 L433.5 342.9 L433.5 344.8 L433.3 346.6 L433.0 348.3 L432.5 349.8 L431.8 351.2 L431.0 352.4 L430.0 353.4 L428.9 354.1 Z"/>
<path d="M409.1 344.0 L408.2 342.6 L407.3 341.2 L406.5 339.7 L405.7 338.3 L405.1 336.8 L404.5 335.2 L404.0 333.7 L403.5 332.2 L403.2 330.7 L402.9 329.2 L402.8 327.8 L402.7 326.4 L402.7 325.1 L402.9 323.8 L403.1 322.6 L403.4 321.4 L403.8 320.4 L404.2 319.4 L404.8 318.5 L405.4 317.7 L406.1 317.1 L406.9 316.5 L407.8 316.1 L408.7 315.7 L409.6 315.5 L410.7 315.4 L411.7 315.4 L412.8 315.6 L413.9 315.8 L415.1 316.2 L416.3 316.7 L417.4 317.3 L418.6 318.0 L419.8 318.8 L420.9 319.7 L422.1 320.7 L423.2 321.8 L424.3 323.0 L425.3 324.2 L426.3 325.5"/>
<path d="M416.3 315.5 C415.5 315.6 412.5 315.4 411.3 315.8 C410.1 316.2 409.6 316.7 409.0 317.6 C408.4 318.5 408.0 319.9 407.9 321.4 C407.8 322.9 407.9 324.5 408.2 326.4 C408.5 328.3 408.6 330.3 409.6 333.0 C410.7 335.7 412.3 339.7 414.5 342.8 C416.7 345.9 419.8 350.1 422.6 351.7 C425.4 353.3 430.0 352.5 431.5 352.6"/>
<path d="M106.9 148.4 L111.0 145.9 L111.0 155.8 L150.8 178.0 L150.8 199.4 L145.9 201.7 L146.3 180.6 L106.9 157.8 Z" class="k"/>
<path d="M106.9 179.7 L111.4 182.4 L111.4 186.5 L106.5 188.7 Z" class="k"/>
<path d="M94.8 162.3 L106.9 148.4 L106.9 157.8 L146.3 180.6 L145.9 201.7 L106.9 179.7 L106.5 188.7 Z" class="w"/>
<text transform="translate(104.3 172.9) skewY(30) scale(0.5 1)" font-size="16.5" font-weight="bold" text-anchor="middle" class="ts" style="stroke:#000;stroke-width:0.7">F</text>
<text transform="translate(114.2 178.9) skewY(30) scale(0.5 1)" font-size="16.5" font-weight="bold" text-anchor="middle" class="ts" style="stroke:#000;stroke-width:0.7">R</text>
<text transform="translate(123.6 184.6) skewY(30) scale(0.5 1)" font-size="16.5" font-weight="bold" text-anchor="middle" class="ts" style="stroke:#000;stroke-width:0.7">O</text>
<text transform="translate(133.0 190.0) skewY(30) scale(0.5 1)" font-size="16.5" font-weight="bold" text-anchor="middle" class="ts" style="stroke:#000;stroke-width:0.7">N</text>
<text transform="translate(141.5 194.9) skewY(30) scale(0.5 1)" font-size="16.5" font-weight="bold" text-anchor="middle" class="ts" style="stroke:#000;stroke-width:0.7">T</text>
<path d="M522.5 200.8 L522.5 228.3"/>
<path d="M510.6 235.9 L535.6 221.3 L541.0 224.3 L516.0 238.6 Z"/>
<path d="M516.0 238.6 C516.1 239.4 516.1 242.2 516.8 243.5 C517.6 244.9 518.9 246.1 520.4 246.7 C521.9 247.2 523.9 247.5 525.8 246.7 C527.7 245.8 530.1 243.8 532.1 241.7 C534.0 239.7 535.9 237.5 537.4 234.6 C538.9 231.7 540.4 226.0 541.0 224.3"/>
<path d="M510.6 235.9 C510.7 236.6 510.4 238.6 511.0 240.0 C511.6 241.3 512.7 242.9 514.2 244.0 C515.6 245.1 518.6 246.2 519.5 246.7"/>
<path d="M512.4 237.7 C512.6 238.4 512.7 240.6 513.4 241.7 C514.2 242.9 516.3 244.1 516.8 244.6"/>
<path d="M289.3 302.4 L289.3 331.5"/>
<path d="M250.2 363.1 L227.3 377.1"/>
<path d="M292.4 349.3 L292.1 349.4 L291.7 349.6 L291.3 349.6 L290.9 349.7 L290.5 349.6 L290.1 349.6 L289.6 349.5 L289.2 349.3 L288.7 349.1 L288.2 348.9 L287.8 348.6 L287.3 348.2 L286.9 347.9 L286.4 347.5 L286.0 347.0 L285.5 346.6 L285.1 346.1 L284.7 345.5 L284.4 345.0 L284.0 344.4 L283.7 343.8 L283.4 343.3 L283.2 342.7 L282.9 342.1 L282.8 341.5 L282.6 340.9 L282.5 340.3 L282.4 339.7 L282.3 339.1 L282.3 338.6 L282.3 338.0 L282.4 337.5 L282.5 337.1 L282.6 336.6 L282.8 336.2 L282.9 335.8 L283.2 335.5 L283.4 335.2 L283.7 334.9 L284.0 334.7 L293.0 329.6 L293.3 329.4 L293.7 329.3 L294.1 329.2 L294.5 329.2 L294.9 329.2 L295.3 329.3 L295.8 329.4 L296.2 329.5 L296.7 329.7 L297.2 330.0 L297.6 330.3 L298.1 330.6 L298.5 331.0 L299.0 331.4 L299.4 331.8 L299.9 332.3 L300.3 332.8 L300.7 333.3 L301.0 333.9 L301.4 334.4 L301.7 335.0 L302.0 335.6 L302.2 336.2 L302.5 336.8 L302.6 337.4 L302.8 338.0 L302.9 338.6 L303.0 339.2 L303.1 339.7 L303.1 340.3 L303.1 340.8 L303.0 341.3 L302.9 341.8 L302.8 342.2 L302.6 342.6 L302.5 343.0 L302.2 343.4 L302.0 343.7 L301.7 343.9 L301.4 344.1 Z" class="w"/>
<path d="M284.0 334.7 L284.4 334.6 L284.7 334.4 L285.1 334.4 L285.5 334.3 L286.0 334.4 L286.4 334.4 L286.9 334.5 L287.3 334.7 L287.8 334.9 L288.2 335.1 L288.7 335.4 L289.2 335.8 L289.6 336.1 L290.1 336.5 L290.5 337.0 L290.9 337.4 L291.3 337.9 L291.7 338.5 L292.1 339.0 L292.4 339.6 L292.8 340.2 L293.0 340.7 L293.3 341.3 L293.5 341.9 L293.7 342.5 L293.9 343.1 L294.0 343.7 L294.1 344.3 L294.2 344.9 L294.2 345.4 L294.2 346.0 L294.1 346.5 L294.0 346.9 L293.9 347.4 L293.7 347.8 L293.5 348.2 L293.3 348.5 L293.0 348.8 L292.8 349.1 L292.4 349.3"/>
<path d="M295.1 330.6 L295.7 330.7 L296.2 330.9 L296.8 331.1 L297.4 331.5 L298.0 331.9 L298.6 332.4 L299.1 332.9 L299.6 333.5 L300.1 334.2 L300.6 334.9 L300.9 335.6 L301.3 336.4 L301.6 337.1 L301.8 337.9 L301.9 338.6 L302.0 339.3 L302.0 340.0 L301.9 340.6 L301.7 341.2 L301.5 341.7"/>
<path d="M288.0 333.0 L293.3 330.0"/>
<path d="M289.7 333.5 L295.1 330.4"/>
<path d="M291.6 334.6 L297.0 331.5"/>
<path d="M293.3 336.4 L298.7 333.3"/>
<path d="M294.8 338.5 L300.2 335.5"/>
<path d="M295.9 340.9 L301.2 337.8"/>
<path d="M296.4 343.3 L301.7 340.2"/>
<path d="M296.3 345.4 L301.7 342.3"/>
<path d="M295.7 347.0 L301.0 343.9"/>
<path d="M256.4 366.8 L256.0 366.9 L255.7 367.0 L255.4 367.0 L255.0 367.0 L254.6 366.9 L254.2 366.8 L253.8 366.6 L253.4 366.4 L253.0 366.1 L252.6 365.8 L252.2 365.4 L251.8 365.0 L251.5 364.5 L251.2 364.1 L250.9 363.6 L250.6 363.1 L250.3 362.6 L250.1 362.0 L250.0 361.5 L249.8 361.0 L249.8 360.5 L249.7 360.0 L249.7 359.5 L249.8 359.1 L249.8 358.7 L250.0 358.3 L250.1 358.0 L250.3 357.7 L250.6 357.4 L250.8 357.2 L285.5 337.2 L285.8 337.1 L286.1 337.0 L286.5 337.0 L286.8 337.0 L287.2 337.1 L287.6 337.2 L288.0 337.4 L288.4 337.6 L288.8 337.9 L289.2 338.2 L289.6 338.6 L290.0 339.0 L290.4 339.5 L290.7 339.9 L291.0 340.4 L291.3 340.9 L291.5 341.4 L291.7 342.0 L291.9 342.5 L292.0 343.0 L292.1 343.5 L292.1 344.0 L292.1 344.5 L292.1 344.9 L292.0 345.3 L291.9 345.7 L291.7 346.0 L291.5 346.3 L291.3 346.6 L291.0 346.8 Z" class="w"/>
<path d="M252.9 355.5 L253.2 355.3 L253.6 355.1 L254.0 355.0 L254.4 355.0 L254.8 355.0 L255.3 355.1 L255.8 355.3 L256.2 355.5 L256.7 355.8 L257.2 356.2 L257.7 356.6 L258.1 357.1 L258.5 357.6 L258.9 358.1 L259.3 358.7 L259.6 359.3 L259.9 359.9 L260.1 360.6 L260.3 361.2 L260.4 361.8 L260.5 362.4 L260.5 363.0 L260.5 363.5 L260.4 364.0 L260.3 364.4 L260.1 364.8 L259.8 365.2 L259.5 365.5 L259.2 365.7 L258.8 365.8"/>
<path d="M256.3 353.6 L256.6 353.4 L256.9 353.2 L257.3 353.1 L257.7 353.0 L258.2 353.1 L258.6 353.2 L259.1 353.3 L259.6 353.6 L260.1 353.9 L260.6 354.2 L261.0 354.7 L261.5 355.1 L261.9 355.6 L262.3 356.2 L262.7 356.8 L263.0 357.4 L263.3 358.0 L263.5 358.6 L263.7 359.2 L263.8 359.9 L263.9 360.4 L263.9 361.0 L263.9 361.6 L263.8 362.1 L263.6 362.5 L263.4 362.9 L263.2 363.2 L262.9 363.5 L262.6 363.7 L262.2 363.9"/>
<path d="M259.6 351.7 L259.9 351.4 L260.3 351.2 L260.7 351.1 L261.1 351.1 L261.5 351.1 L262.0 351.2 L262.5 351.4 L263.0 351.6 L263.4 351.9 L263.9 352.3 L264.4 352.7 L264.8 353.2 L265.3 353.7 L265.7 354.3 L266.0 354.8 L266.3 355.4 L266.6 356.1 L266.8 356.7 L267.0 357.3 L267.2 357.9 L267.2 358.5 L267.3 359.1 L267.2 359.6 L267.1 360.1 L267.0 360.6 L266.8 361.0 L266.6 361.3 L266.3 361.6 L265.9 361.8 L265.6 361.9"/>
<path d="M263.0 349.7 L263.3 349.5 L263.7 349.3 L264.0 349.2 L264.5 349.1 L264.9 349.2 L265.4 349.3 L265.8 349.5 L266.3 349.7 L266.8 350.0 L267.3 350.4 L267.8 350.8 L268.2 351.2 L268.6 351.8 L269.0 352.3 L269.4 352.9 L269.7 353.5 L270.0 354.1 L270.2 354.7 L270.4 355.4 L270.5 356.0 L270.6 356.6 L270.6 357.1 L270.6 357.7 L270.5 358.2 L270.4 358.6 L270.2 359.0 L269.9 359.4 L269.6 359.6 L269.3 359.9 L268.9 360.0"/>
<path d="M266.4 347.8 L266.7 347.5 L267.0 347.4 L267.4 347.2 L267.8 347.2 L268.3 347.2 L268.7 347.3 L269.2 347.5 L269.7 347.7 L270.2 348.1 L270.6 348.4 L271.1 348.8 L271.6 349.3 L272.0 349.8 L272.4 350.4 L272.7 350.9 L273.1 351.6 L273.3 352.2 L273.6 352.8 L273.8 353.4 L273.9 354.0 L274.0 354.6 L274.0 355.2 L274.0 355.7 L273.9 356.2 L273.7 356.7 L273.5 357.1 L273.3 357.4 L273.0 357.7 L272.7 357.9 L272.3 358.1"/>
<path d="M269.7 345.8 L270.0 345.6 L270.4 345.4 L270.8 345.3 L271.2 345.3 L271.6 345.3 L272.1 345.4 L272.6 345.6 L273.1 345.8 L273.5 346.1 L274.0 346.5 L274.5 346.9 L274.9 347.4 L275.4 347.9 L275.7 348.4 L276.1 349.0 L276.4 349.6 L276.7 350.2 L276.9 350.8 L277.1 351.5 L277.3 352.1 L277.3 352.7 L277.3 353.2 L277.3 353.8 L277.2 354.3 L277.1 354.7 L276.9 355.1 L276.6 355.5 L276.4 355.8 L276.0 356.0 L275.7 356.1"/>
<path d="M273.1 343.9 L273.4 343.6 L273.7 343.5 L274.1 343.4 L274.6 343.3 L275.0 343.4 L275.5 343.5 L275.9 343.6 L276.4 343.9 L276.9 344.2 L277.4 344.5 L277.8 345.0 L278.3 345.4 L278.7 345.9 L279.1 346.5 L279.5 347.1 L279.8 347.7 L280.1 348.3 L280.3 348.9 L280.5 349.5 L280.6 350.1 L280.7 350.7 L280.7 351.3 L280.7 351.8 L280.6 352.3 L280.4 352.8 L280.3 353.2 L280.0 353.5 L279.7 353.8 L279.4 354.0 L279.0 354.2"/>
<path d="M276.4 341.9 L276.8 341.7 L277.1 341.5 L277.5 341.4 L277.9 341.4 L278.4 341.4 L278.8 341.5 L279.3 341.7 L279.8 341.9 L280.3 342.2 L280.7 342.6 L281.2 343.0 L281.7 343.5 L282.1 344.0 L282.5 344.5 L282.8 345.1 L283.2 345.7 L283.4 346.3 L283.7 347.0 L283.8 347.6 L284.0 348.2 L284.1 348.8 L284.1 349.4 L284.0 349.9 L284.0 350.4 L283.8 350.9 L283.6 351.3 L283.4 351.6 L283.1 351.9 L282.8 352.1 L282.4 352.2"/>
<path d="M279.8 340.0 L280.1 339.8 L280.5 339.6 L280.9 339.5 L281.3 339.4 L281.7 339.5 L282.2 339.6 L282.7 339.7 L283.1 340.0 L283.6 340.3 L284.1 340.6 L284.6 341.1 L285.0 341.5 L285.4 342.1 L285.8 342.6 L286.2 343.2 L286.5 343.8 L286.8 344.4 L287.0 345.0 L287.2 345.6 L287.3 346.3 L287.4 346.9 L287.4 347.4 L287.4 348.0 L287.3 348.5 L287.2 348.9 L287.0 349.3 L286.7 349.7 L286.4 349.9 L286.1 350.2 L285.7 350.3"/>
<path d="M283.2 338.1 L283.5 337.8 L283.8 337.6 L284.2 337.5 L284.6 337.5 L285.1 337.5 L285.5 337.6 L286.0 337.8 L286.5 338.0 L287.0 338.3 L287.5 338.7 L287.9 339.1 L288.4 339.6 L288.8 340.1 L289.2 340.7 L289.6 341.2 L289.9 341.8 L290.2 342.5 L290.4 343.1 L290.6 343.7 L290.7 344.3 L290.8 344.9 L290.8 345.5 L290.8 346.0 L290.7 346.5 L290.5 347.0 L290.3 347.4 L290.1 347.7 L289.8 348.0 L289.5 348.2 L289.1 348.4"/>
<path d="M256.4 366.8 L255.9 367.0 L255.4 367.0 L254.8 367.0 L254.2 366.8 L253.6 366.5 L253.0 366.1 L252.4 365.6 L251.8 365.0 L251.3 364.3 L250.9 363.6 L250.5 362.8 L250.1 362.0 L249.9 361.3 L249.8 360.5 L249.7 359.8 L249.8 359.1 L249.9 358.5 L250.1 358.0 L250.5 357.5 L250.8 357.2 L251.3 357.0 L251.8 357.0 L252.4 357.0 L253.0 357.2 L253.6 357.5 L254.2 357.9 L254.8 358.4 L255.4 359.0 L255.9 359.7 L256.3 360.4 L256.7 361.2 L257.1 362.0 L257.3 362.7 L257.4 363.5 L257.5 364.2 L257.4 364.9 L257.3 365.5 L257.1 366.0 L256.7 366.5 L256.4 366.8 Z" class="w"/>
<path d="M256.6 364.8 L256.1 364.9 L255.6 364.9 L255.1 364.8 L254.5 364.5 L253.9 364.1 L253.4 363.5 L252.9 362.9 L252.5 362.2 L252.2 361.4 L252.0 360.7 L251.9 360.0 L251.9 359.3 L252.1 358.8 L252.3 358.3 L252.7 358.0 L253.1 357.9 L253.7 357.9 L254.2 358.0 L254.8 358.3 L255.4 358.7 L255.9 359.3 L256.4 359.9 L256.8 360.6 L257.1 361.4 L257.3 362.1 L257.4 362.8 L257.4 363.5 L257.2 364.0 L257.0 364.5 L256.6 364.8 Z"/>
<path d="M146.5 515.2 L136.1 529.9 L132.4 528.6 L169.6 507.2 L173.3 508.4 L183.6 493.8 Z" class="w"/>
<path d="M124.5 475.2 L105.9 475.0 L104.9 478.6 L142.0 457.1 L143.0 453.5 L161.6 453.8 Z" class="w"/>
<path d="M163.4 531.6 L159.8 553.0 L156.6 553.4 L193.7 532.0 L196.9 531.6 L200.5 510.2 Z" class="w"/>
<path d="M146.5 515.2 L136.1 529.9 L132.4 528.6 L120.6 511.5 L120.3 507.0 L134.6 498.0 Z" class="w"/>
<path d="M143.7 516.6 L132.9 500.9" class="h"/>
<path d="M141.6 519.5 L130.0 502.8" class="h"/>
<path d="M139.4 522.4 L127.2 504.7" class="h"/>
<path d="M137.2 525.3 L124.3 506.6" class="h"/>
<path d="M135.1 528.2 L121.5 508.5" class="h"/>
<path d="M119.9 452.6 L99.4 443.3 L97.2 445.6 L134.3 424.1 L136.5 421.9 L157.0 431.2 Z" class="w"/>
<path d="M132.5 494.3 L116.7 500.4 L113.0 497.6 L104.9 478.6 L105.9 475.0 L124.5 475.2 Z" class="w"/>
<path d="M129.0 494.0 L121.7 476.6" class="h"/>
<path d="M125.8 495.1 L117.9 476.6" class="h"/>
<path d="M122.5 496.3 L114.2 476.7" class="h"/>
<path d="M119.3 497.4 L110.5 476.7" class="h"/>
<path d="M116.0 498.6 L106.7 476.8" class="h"/>
<path d="M163.4 531.6 L159.8 553.0 L156.6 553.4 L142.4 540.2 L140.8 535.4 L149.2 518.4 Z" class="w"/>
<path d="M161.7 534.5 L148.7 522.5" class="h"/>
<path d="M160.9 538.8 L147.1 526.0" class="h"/>
<path d="M160.1 543.1 L145.5 529.5" class="h"/>
<path d="M159.3 547.4 L143.8 533.0" class="h"/>
<path d="M158.5 551.7 L142.2 536.5" class="h"/>
<path d="M123.3 471.3 L103.8 468.2 L100.5 464.2 L97.2 445.6 L99.4 443.3 L119.9 452.6 Z" class="w"/>
<path d="M119.5 469.3 L116.4 452.3" class="h"/>
<path d="M115.5 468.6 L112.3 450.5" class="h"/>
<path d="M111.5 467.9 L108.1 448.7" class="h"/>
<path d="M107.6 467.2 L103.9 446.9" class="h"/>
<path d="M103.6 466.4 L99.8 445.1" class="h"/>
<path d="M181.3 541.4 L184.8 567.0 L182.5 569.1 L219.6 547.6 L222.0 545.6 L218.4 520.0 Z" class="w"/>
<path d="M121.6 433.0 L101.5 415.7 L98.4 416.4 L135.5 394.9 L138.6 394.3 L158.7 411.6 Z" class="w"/>
<path d="M181.3 541.4 L184.8 567.0 L182.5 569.1 L167.7 561.4 L165.0 556.8 L166.4 533.8 Z" class="w"/>
<path d="M180.8 545.5 L167.3 538.5" class="h"/>
<path d="M181.5 550.7 L167.1 543.3" class="h"/>
<path d="M182.1 555.9 L166.9 548.0" class="h"/>
<path d="M182.8 561.0 L166.6 552.7" class="h"/>
<path d="M183.4 566.2 L166.4 557.4" class="h"/>
<path d="M119.8 449.0 L99.1 437.0 L96.6 432.4 L98.4 416.4 L101.5 415.7 L121.6 433.0 Z" class="w"/>
<path d="M116.1 445.6 L117.8 431.1" class="h"/>
<path d="M111.9 443.1 L113.7 427.6" class="h"/>
<path d="M107.7 440.6 L109.6 424.2" class="h"/>
<path d="M103.6 438.1 L105.5 420.7" class="h"/>
<path d="M99.4 435.6 L101.4 417.3" class="h"/>
<path d="M197.9 543.6 L208.2 570.2 L207.0 573.6 L244.2 552.2 L245.3 548.7 L235.0 522.1 Z" class="w"/>
<path d="M129.2 418.8 L112.1 395.6 L108.4 394.6 L145.5 373.1 L149.2 374.2 L166.3 397.4 Z" class="w"/>
<path d="M197.9 543.6 L208.2 570.2 L207.0 573.6 L193.4 572.4 L190.0 568.6 L184.3 542.4 Z" class="w"/>
<path d="M198.8 548.3 L186.3 547.2" class="h"/>
<path d="M200.8 553.7 L187.5 552.6" class="h"/>
<path d="M202.8 559.1 L188.8 557.9" class="h"/>
<path d="M204.9 564.5 L190.0 563.3" class="h"/>
<path d="M206.9 570.0 L191.2 568.6" class="h"/>
<path d="M122.5 430.2 L103.1 410.8 L101.7 405.9 L108.4 394.6 L112.1 395.6 L129.2 418.8 Z" class="w"/>
<path d="M119.4 425.8 L125.6 415.4" class="h"/>
<path d="M115.5 421.8 L122.1 410.7" class="h"/>
<path d="M111.6 417.8 L118.5 406.1" class="h"/>
<path d="M107.7 413.8 L115.0 401.4" class="h"/>
<path d="M103.8 409.8 L111.5 396.8" class="h"/>
<path d="M227.3 566.6 L264.4 545.1 L253.5 550.6 L216.4 572.0 Z" class="w"/>
<path d="M235.7 561.7 L224.9 567.1" class="h"/>
<path d="M255.2 550.5 L244.3 555.9" class="h"/>
<path d="M237.2 560.7 L244.3 556.6" class="h"/>
<path d="M233.3 562.4 L240.4 558.3" class="h"/>
<path d="M115.1 388.1 L152.3 366.7 L163.1 361.3 L126.0 382.7 Z" class="w"/>
<path d="M123.6 383.2 L134.5 377.8" class="h"/>
<path d="M143.1 372.0 L153.9 366.6" class="h"/>
<path d="M129.2 380.2 L136.3 376.1" class="h"/>
<path d="M138.8 375.2 L145.9 371.1" class="h"/>
<path d="M211.3 537.7 L227.2 562.2 L227.3 566.6 L264.4 545.1 L264.3 540.7 L248.5 516.3 Z" class="w"/>
<path d="M214.2 542.2 L251.4 520.7" class="h"/>
<path d="M217.4 547.1 L254.6 525.7" class="h"/>
<path d="M220.7 552.1 L257.8 530.7" class="h"/>
<path d="M223.9 557.1 L261.0 535.7" class="h"/>
<path d="M227.1 562.1 L264.2 540.6" class="h"/>
<path d="M141.9 411.6 L129.7 385.3 L126.0 382.7 L163.1 361.3 L166.9 363.9 L179.0 390.2 Z" class="w"/>
<path d="M139.7 406.8 L176.8 385.4" class="h"/>
<path d="M137.2 401.5 L174.3 380.0" class="h"/>
<path d="M134.7 396.1 L171.9 374.7" class="h"/>
<path d="M132.3 390.8 L169.4 369.3" class="h"/>
<path d="M129.8 385.4 L166.9 364.0" class="h"/>
<path d="M211.3 537.7 L227.2 562.2 L227.3 566.6 L216.4 572.0 L212.7 569.4 L200.5 543.1 Z" class="w"/>
<path d="M213.4 542.6 L203.5 547.5" class="h"/>
<path d="M216.6 547.6 L206.0 552.8" class="h"/>
<path d="M219.8 552.6 L208.6 558.2" class="h"/>
<path d="M222.9 557.6 L211.1 563.5" class="h"/>
<path d="M226.1 562.6 L213.6 568.8" class="h"/>
<path d="M131.0 417.0 L115.2 392.6 L115.1 388.1 L126.0 382.7 L129.7 385.3 L141.9 411.6 Z" class="w"/>
<path d="M129.0 412.2 L138.9 407.2" class="h"/>
<path d="M125.8 407.2 L136.3 401.9" class="h"/>
<path d="M122.6 402.2 L133.8 396.6" class="h"/>
<path d="M119.5 397.2 L131.3 391.2" class="h"/>
<path d="M116.3 392.2 L128.8 385.9" class="h"/>
<path d="M240.7 548.8 L277.8 527.3 L271.1 538.7 L234.0 560.2 Z" class="w"/>
<path d="M249.2 543.9 L242.5 555.3" class="h"/>
<path d="M268.7 532.7 L261.9 544.0" class="h"/>
<path d="M251.5 544.0 L258.5 539.9" class="h"/>
<path d="M250.1 549.4 L257.2 545.4" class="h"/>
<path d="M219.9 524.5 L239.3 543.9 L240.7 548.8 L277.8 527.3 L276.5 522.5 L257.1 503.1 Z" class="w"/>
<path d="M223.5 528.1 L260.6 506.7" class="h"/>
<path d="M227.4 532.0 L264.5 510.6" class="h"/>
<path d="M231.4 536.0 L268.5 514.5" class="h"/>
<path d="M235.3 539.9 L272.4 518.5" class="h"/>
<path d="M239.2 543.9 L276.4 522.4" class="h"/>
<path d="M135.4 381.1 L172.5 359.7 L186.1 360.9 L149.0 382.3 Z" class="w"/>
<path d="M143.8 376.2 L157.5 377.4" class="h"/>
<path d="M163.3 365.0 L177.0 366.2" class="h"/>
<path d="M150.0 374.4 L157.0 370.3" class="h"/>
<path d="M161.3 373.5 L168.4 369.4" class="h"/>
<path d="M158.1 412.4 L152.4 386.1 L149.0 382.3 L186.1 360.9 L189.5 364.7 L195.3 390.9 Z" class="w"/>
<path d="M157.1 407.6 L194.2 386.1" class="h"/>
<path d="M155.9 402.2 L193.1 380.8" class="h"/>
<path d="M154.8 396.9 L191.9 375.5" class="h"/>
<path d="M153.6 391.6 L190.7 370.1" class="h"/>
<path d="M152.4 386.3 L189.6 364.8" class="h"/>
<path d="M219.9 524.5 L239.3 543.9 L240.7 548.8 L234.0 560.2 L230.3 559.1 L213.2 535.9 Z" class="w"/>
<path d="M223.0 528.9 L216.8 539.3" class="h"/>
<path d="M226.9 532.9 L220.3 544.0" class="h"/>
<path d="M230.8 536.9 L223.9 548.7" class="h"/>
<path d="M234.7 540.9 L227.4 553.3" class="h"/>
<path d="M238.6 544.9 L230.9 558.0" class="h"/>
<path d="M144.5 411.2 L134.2 384.5 L135.4 381.1 L149.0 382.3 L152.4 386.1 L158.1 412.4 Z" class="w"/>
<path d="M143.6 406.4 L156.1 407.5" class="h"/>
<path d="M141.6 401.0 L154.8 402.1" class="h"/>
<path d="M139.5 395.6 L153.6 396.8" class="h"/>
<path d="M137.5 390.2 L152.4 391.5" class="h"/>
<path d="M135.5 384.8 L151.2 386.1" class="h"/>
<path d="M222.6 505.7 L243.3 517.7 L245.8 522.4 L282.9 500.9 L280.4 496.2 L259.8 484.3 Z" class="w"/>
<path d="M226.4 507.9 L263.5 486.5" class="h"/>
<path d="M230.6 510.3 L267.7 488.9" class="h"/>
<path d="M234.8 512.8 L271.9 491.3" class="h"/>
<path d="M239.0 515.2 L276.1 493.8" class="h"/>
<path d="M243.2 517.6 L280.3 496.2" class="h"/>
<path d="M245.8 522.4 L282.9 500.9 L281.1 516.9 L244.0 538.3 Z" class="w"/>
<path d="M254.3 517.5 L252.5 533.4" class="h"/>
<path d="M273.7 506.2 L271.9 522.2" class="h"/>
<path d="M257.5 518.5 L264.5 514.4" class="h"/>
<path d="M259.2 526.7 L266.2 522.7" class="h"/>
<path d="M175.9 420.9 L177.4 398.0 L174.7 393.3 L211.8 371.9 L214.5 376.5 L213.1 399.5 Z" class="w"/>
<path d="M176.2 416.7 L213.3 395.3" class="h"/>
<path d="M176.5 412.1 L213.6 390.6" class="h"/>
<path d="M176.8 407.4 L213.9 386.0" class="h"/>
<path d="M177.1 402.7 L214.2 381.3" class="h"/>
<path d="M177.3 398.1 L214.5 376.6" class="h"/>
<path d="M159.9 385.7 L197.0 364.2 L211.8 371.9 L174.7 393.3 Z" class="w"/>
<path d="M168.4 380.8 L183.2 388.4" class="h"/>
<path d="M187.8 369.5 L202.7 377.2" class="h"/>
<path d="M174.7 380.2 L181.8 376.1" class="h"/>
<path d="M186.8 383.3 L193.8 379.2" class="h"/>
<path d="M222.6 505.7 L243.3 517.7 L245.8 522.4 L244.0 538.3 L240.9 539.0 L220.8 521.7 Z" class="w"/>
<path d="M226.3 509.1 L224.6 523.7" class="h"/>
<path d="M230.5 511.6 L228.7 527.1" class="h"/>
<path d="M234.7 514.1 L232.8 530.5" class="h"/>
<path d="M238.8 516.6 L236.9 534.0" class="h"/>
<path d="M243.0 519.1 L241.0 537.4" class="h"/>
<path d="M161.1 413.3 L157.6 387.7 L159.9 385.7 L174.7 393.3 L177.4 398.0 L175.9 420.9 Z" class="w"/>
<path d="M161.6 409.2 L175.1 416.2" class="h"/>
<path d="M160.9 404.0 L175.3 411.5" class="h"/>
<path d="M160.3 398.9 L175.5 406.8" class="h"/>
<path d="M159.6 393.7 L175.7 402.1" class="h"/>
<path d="M159.0 388.6 L176.0 397.4" class="h"/>
<path d="M219.1 483.5 L238.6 486.5 L241.9 490.5 L279.0 469.1 L275.7 465.1 L256.3 462.0 Z" class="w"/>
<path d="M222.7 484.0 L259.8 462.6" class="h"/>
<path d="M226.6 484.7 L263.8 463.2" class="h"/>
<path d="M230.6 485.3 L267.7 463.8" class="h"/>
<path d="M234.5 485.9 L271.6 464.5" class="h"/>
<path d="M238.5 486.5 L275.6 465.1" class="h"/>
<path d="M193.2 436.3 L201.6 419.4 L200.0 414.5 L237.1 393.1 L238.7 397.9 L230.3 414.9 Z" class="w"/>
<path d="M194.7 433.2 L231.8 411.8" class="h"/>
<path d="M196.4 429.8 L233.5 408.4" class="h"/>
<path d="M198.1 426.3 L235.2 404.9" class="h"/>
<path d="M199.8 422.9 L236.9 401.5" class="h"/>
<path d="M201.5 419.4 L238.6 398.0" class="h"/>
<path d="M241.9 490.5 L279.0 469.1 L282.3 487.7 L245.2 509.2 Z" class="w"/>
<path d="M250.4 485.6 L253.7 504.3" class="h"/>
<path d="M269.8 474.4 L273.1 493.0" class="h"/>
<path d="M254.5 487.1 L261.6 483.0" class="h"/>
<path d="M259.4 497.1 L266.5 493.0" class="h"/>
<path d="M209.9 460.5 L225.7 454.3 L229.4 457.1 L266.5 435.7 L262.8 432.9 L247.0 439.0 Z" class="w"/>
<path d="M212.7 459.3 L249.9 437.9" class="h"/>
<path d="M216.0 458.1 L253.1 436.7" class="h"/>
<path d="M219.2 456.8 L256.3 435.4" class="h"/>
<path d="M222.4 455.6 L259.5 434.2" class="h"/>
<path d="M225.6 454.3 L262.8 432.9" class="h"/>
<path d="M207.8 456.7 L222.1 447.8 L221.8 443.3 L258.9 421.8 L259.2 426.3 L244.9 435.3 Z" class="w"/>
<path d="M210.4 455.1 L247.5 433.6" class="h"/>
<path d="M213.3 453.2 L250.4 431.8" class="h"/>
<path d="M216.2 451.4 L253.3 430.0" class="h"/>
<path d="M219.1 449.6 L256.2 428.2" class="h"/>
<path d="M222.0 447.8 L259.2 426.4" class="h"/>
<path d="M185.8 401.3 L222.9 379.9 L237.1 393.1 L200.0 414.5 Z" class="w"/>
<path d="M194.3 396.4 L208.5 409.6" class="h"/>
<path d="M213.7 385.2 L227.9 398.4" class="h"/>
<path d="M200.5 396.9 L207.6 392.8" class="h"/>
<path d="M212.2 403.4 L219.2 399.4" class="h"/>
<path d="M219.1 483.5 L238.6 486.5 L241.9 490.5 L245.2 509.2 L243.0 511.4 L222.5 502.1 Z" class="w"/>
<path d="M222.9 485.4 L226.0 502.4" class="h"/>
<path d="M226.9 486.1 L230.1 504.2" class="h"/>
<path d="M230.9 486.8 L234.3 506.0" class="h"/>
<path d="M234.8 487.6 L238.5 507.8" class="h"/>
<path d="M238.8 488.3 L242.6 509.6" class="h"/>
<path d="M179.0 423.1 L182.6 401.7 L185.8 401.3 L200.0 414.5 L201.6 419.4 L193.2 436.3 Z" class="w"/>
<path d="M180.7 420.2 L193.7 432.3" class="h"/>
<path d="M181.5 415.9 L195.3 428.7" class="h"/>
<path d="M182.3 411.6 L196.9 425.2" class="h"/>
<path d="M183.1 407.3 L198.6 421.7" class="h"/>
<path d="M183.9 403.1 L200.2 418.2" class="h"/>
<path d="M229.4 457.1 L266.5 435.7 L274.6 454.7 L237.5 476.1 Z" class="w"/>
<path d="M237.9 452.2 L246.0 471.2" class="h"/>
<path d="M257.4 441.0 L265.4 460.0" class="h"/>
<path d="M243.0 453.8 L250.0 449.7" class="h"/>
<path d="M250.8 464.0 L257.9 459.9" class="h"/>
<path d="M209.9 426.1 L247.1 404.7 L258.9 421.8 L221.8 443.3 Z" class="w"/>
<path d="M218.4 421.2 L230.3 438.4" class="h"/>
<path d="M237.9 410.0 L249.7 427.1" class="h"/>
<path d="M224.2 422.4 L231.3 418.3" class="h"/>
<path d="M234.4 431.5 L241.5 427.4" class="h"/>
<path d="M209.9 460.5 L225.7 454.3 L229.4 457.1 L237.5 476.1 L236.5 479.7 L217.9 479.5 Z" class="w"/>
<path d="M213.3 460.8 L220.7 478.1" class="h"/>
<path d="M216.6 459.6 L224.5 478.1" class="h"/>
<path d="M219.9 458.4 L228.2 478.1" class="h"/>
<path d="M223.1 457.3 L231.9 478.0" class="h"/>
<path d="M226.4 456.1 L235.7 478.0" class="h"/>
<path d="M195.9 439.5 L206.3 424.9 L209.9 426.1 L221.8 443.3 L222.1 447.8 L207.8 456.7 Z" class="w"/>
<path d="M198.7 438.1 L209.5 453.8" class="h"/>
<path d="M200.8 435.2 L212.4 451.9" class="h"/>
<path d="M203.0 432.3 L215.2 450.0" class="h"/>
<path d="M205.2 429.4 L218.1 448.1" class="h"/>
<path d="M207.3 426.5 L220.9 446.2" class="h"/>
<path d="M219.0 449.6 L249.2 432.8" class="h"/>
<path d="M219.6 450.6 L249.6 433.6" class="h"/>
<path d="M220.2 451.6 L250.0 434.4" class="h"/>
<path d="M220.8 452.6 L250.4 435.2" class="h"/>
<path d="M221.4 453.6 L250.8 436.0" class="h"/>
<path d="M222.0 454.6 L251.2 436.8" class="h"/>
<path d="M214.0 539.3 L211.3 540.6 L208.4 541.6 L205.4 542.3 L202.2 542.7 L198.9 542.7 L195.5 542.4 L192.0 541.8 L188.4 540.9 L184.8 539.6 L181.1 538.0 L177.4 536.1 L173.7 533.9 L170.0 531.3 L166.4 528.6 L162.8 525.5 L159.2 522.2 L155.8 518.7 L152.4 515.0 L149.2 511.0 L146.1 506.9 L143.1 502.6 L140.3 498.2 L137.7 493.7 L135.3 489.0 L133.1 484.3 L131.0 479.6 L129.2 474.8 L127.7 470.0 L126.4 465.3 L125.3 460.6 L124.4 455.9 L123.9 451.4 L123.5 446.9 L123.5 442.6 L123.7 438.5 L124.1 434.5 L124.8 430.7 L125.8 427.1 L127.0 423.8 L128.4 420.7 L130.1 417.8 L132.0 415.3 L134.1 413.0 L136.5 411.0 L139.0 409.3 L141.7 408.0 L144.6 407.0 L147.6 406.3 L150.8 405.9 L154.1 405.9 L157.5 406.2 L161.0 406.8 L164.6 407.7 L168.2 409.0 L171.9 410.6 L175.6 412.5 L179.3 414.7 L183.0 417.3 L186.6 420.0 L190.2 423.1 L193.8 426.4 L197.2 429.9 L200.6 433.6 L203.8 437.6 L206.9 441.7 L209.9 446.0 L212.7 450.4 L215.3 454.9 L217.7 459.6 L219.9 464.3 L222.0 469.0 L223.8 473.8 L225.3 478.6 L226.6 483.3 L227.7 488.0 L228.6 492.7 L229.1 497.2 L229.5 501.7 L229.5 506.0 L229.3 510.1 L228.9 514.1 L228.2 517.9 L227.2 521.5 L226.0 524.8 L224.6 527.9 L222.9 530.8 L221.0 533.3 L218.9 535.6 L216.5 537.6 L214.0 539.3 Z" class="w"/>
<path d="M213.1 537.7 L210.5 539.0 L207.7 540.0 L204.7 540.7 L201.6 541.1 L198.4 541.1 L195.0 540.8 L191.6 540.2 L188.1 539.3 L184.6 538.0 L181.0 536.4 L177.4 534.6 L173.8 532.4 L170.2 530.0 L166.6 527.3 L163.1 524.3 L159.6 521.1 L156.3 517.6 L153.0 514.0 L149.8 510.1 L146.8 506.1 L143.9 501.9 L141.2 497.6 L138.6 493.2 L136.3 488.7 L134.1 484.1 L132.1 479.5 L130.4 474.8 L128.9 470.1 L127.6 465.5 L126.5 460.9 L125.7 456.4 L125.1 451.9 L124.8 447.6 L124.7 443.4 L124.9 439.3 L125.4 435.4 L126.1 431.7 L127.0 428.2 L128.2 425.0 L129.6 422.0 L131.2 419.2 L133.1 416.7 L135.2 414.5 L137.4 412.5 L139.9 410.9 L142.5 409.6 L145.3 408.6 L148.3 407.9 L151.4 407.5 L154.6 407.5 L158.0 407.8 L161.4 408.4 L164.9 409.3 L168.4 410.6 L172.0 412.2 L175.6 414.0 L179.2 416.2 L182.8 418.6 L186.4 421.3 L189.9 424.3 L193.4 427.5 L196.7 431.0 L200.0 434.6 L203.2 438.5 L206.2 442.5 L209.1 446.7 L211.8 451.0 L214.4 455.4 L216.7 459.9 L218.9 464.5 L220.9 469.1 L222.6 473.8 L224.1 478.5 L225.4 483.1 L226.5 487.7 L227.3 492.2 L227.9 496.7 L228.2 501.0 L228.3 505.2 L228.1 509.3 L227.6 513.2 L226.9 516.9 L226.0 520.4 L224.8 523.6 L223.4 526.6 L221.8 529.4 L219.9 531.9 L217.8 534.1 L215.6 536.1 L213.1 537.7 Z"/>
<path d="M202.6 518.1 L200.8 519.0 L198.8 519.7 L196.8 520.2 L194.6 520.4 L192.4 520.5 L190.1 520.3 L187.8 519.8 L185.3 519.2 L182.9 518.3 L180.4 517.3 L177.9 516.0 L175.4 514.5 L172.9 512.8 L170.5 510.9 L168.0 508.9 L165.7 506.6 L163.3 504.3 L161.1 501.7 L158.9 499.1 L156.8 496.3 L154.8 493.4 L152.9 490.4 L151.1 487.4 L149.5 484.2 L148.0 481.1 L146.6 477.9 L145.4 474.7 L144.4 471.4 L143.5 468.2 L142.7 465.0 L142.2 461.9 L141.8 458.8 L141.6 455.8 L141.5 452.9 L141.7 450.1 L142.0 447.4 L142.4 444.9 L143.1 442.5 L143.9 440.2 L144.9 438.1 L146.0 436.2 L147.3 434.5 L148.7 432.9 L150.3 431.6 L152.0 430.5 L153.8 429.6 L155.8 428.9 L157.8 428.4 L160.0 428.2 L162.2 428.1 L164.5 428.3 L166.8 428.8 L169.3 429.4 L171.7 430.3 L174.2 431.3 L176.7 432.6 L179.2 434.1 L181.7 435.8 L184.1 437.7 L186.6 439.7 L188.9 442.0 L191.3 444.3 L193.5 446.9 L195.7 449.5 L197.8 452.3 L199.8 455.2 L201.7 458.2 L203.5 461.2 L205.1 464.4 L206.6 467.5 L208.0 470.7 L209.2 473.9 L210.2 477.2 L211.1 480.4 L211.9 483.6 L212.4 486.7 L212.8 489.8 L213.0 492.8 L213.1 495.7 L212.9 498.5 L212.6 501.2 L212.2 503.7 L211.5 506.1 L210.7 508.4 L209.7 510.5 L208.6 512.4 L207.3 514.1 L205.9 515.7 L204.3 517.0 L202.6 518.1 Z"/>
<path d="M210.3 507.2 L209.7 508.7 L209.1 510.0 L208.3 511.3 L207.5 512.4 L206.7 513.6 L205.7 514.6 L204.7 515.5 L203.7 516.3 L202.6 517.1 L201.4 517.7 L200.2 518.3 L198.9 518.8 L197.6 519.1 L196.3 519.4 L194.9 519.6 L193.4 519.7 L192.0 519.6 L190.5 519.5 L188.9 519.3 L187.4 519.0 L185.8 518.6 L184.2 518.1 L182.6 517.5 L181.0 516.8 L179.3 516.0 L177.7 515.1 L176.1 514.1 L174.4 513.1 L172.8 512.0 L171.2 510.7"/>
<path d="M210.6 507.5 L209.3 507.2 L208.1 506.8 L206.9 506.4 L205.6 506.0 L204.4 505.4 L203.1 504.9 L201.8 504.2 L200.6 503.6 L199.3 502.8 L198.0 502.0 L196.8 501.2 L195.5 500.3 L194.2 499.4 L193.0 498.4 L191.8 497.4 L190.5 496.3 L189.3 495.2 L188.1 494.1 L186.9 492.9 L185.7 491.7 L184.6 490.4 L183.4 489.1 L182.3 487.8 L181.2 486.4 L180.1 485.0 L179.1 483.6 L178.1 482.1 L177.1 480.6 L176.1 479.1 L175.1 477.6 L174.2 476.1 L173.3 474.5 L172.5 472.9 L171.7 471.3 L170.9 469.7 L170.2 468.1 L169.4 466.5 L168.8 464.9 L168.1 463.2 L167.5 461.6 L167.0 460.0 L166.5 458.3 L166.0 456.7 L165.6 455.1 L165.2 453.4 L164.8 451.8 L164.5 450.2 L164.2 448.6 L164.0 447.1 L163.9 445.5 L163.7 444.0 L163.6 442.5 L163.6 441.0 L163.6 439.5 L163.6 438.1 L163.7 436.7 L163.9 435.3 L164.0 433.9 L164.2 432.6 L164.5 431.3 L164.8 430.1 L165.2 428.9"/>
<path d="M150.4 427.6 L149.5 427.9 L148.5 427.8 L147.4 427.3 L146.3 426.5 L145.3 425.4 L144.4 424.1 L143.7 422.7 L143.3 421.3 L143.2 420.0 L143.3 418.8 L143.7 417.8 L144.4 417.2 L145.3 416.9 L146.3 417.0 L147.4 417.5 L148.5 418.3 L149.5 419.4 L150.4 420.7 L151.1 422.1 L151.5 423.5 L151.6 424.8 L151.5 426.0 L151.1 427.0 L150.4 427.6 Z"/>
<path d="M139.3 468.4 L138.4 468.7 L137.4 468.6 L136.3 468.1 L135.2 467.3 L134.2 466.2 L133.3 464.9 L132.6 463.5 L132.2 462.1 L132.1 460.8 L132.2 459.6 L132.6 458.6 L133.3 458.0 L134.2 457.7 L135.2 457.8 L136.3 458.3 L137.4 459.1 L138.4 460.2 L139.3 461.5 L140.0 462.9 L140.4 464.3 L140.5 465.6 L140.4 466.8 L140.0 467.8 L139.3 468.4 Z"/>
<path d="M146.5 498.0 L145.6 498.3 L144.6 498.2 L143.5 497.7 L142.4 496.9 L141.4 495.8 L140.5 494.5 L139.8 493.1 L139.4 491.7 L139.3 490.4 L139.4 489.2 L139.8 488.2 L140.5 487.6 L141.4 487.3 L142.4 487.4 L143.5 487.9 L144.6 488.7 L145.6 489.8 L146.5 491.1 L147.2 492.5 L147.6 493.9 L147.7 495.2 L147.6 496.4 L147.2 497.4 L146.5 498.0 Z"/>
<path d="M168.8 518.8 L167.9 519.1 L166.9 519.0 L165.8 518.5 L164.7 517.7 L163.7 516.6 L162.8 515.3 L162.1 513.9 L161.7 512.5 L161.6 511.2 L161.7 510.0 L162.1 509.0 L162.8 508.4 L163.7 508.1 L164.7 508.2 L165.8 508.7 L166.9 509.5 L167.9 510.6 L168.8 511.9 L169.5 513.3 L169.9 514.7 L170.0 516.0 L169.9 517.2 L169.5 518.2 L168.8 518.8 Z"/>
<path d="M190.9 537.3 L190.0 537.6 L189.0 537.5 L187.9 537.0 L186.8 536.2 L185.8 535.1 L184.9 533.8 L184.2 532.4 L183.8 531.0 L183.7 529.7 L183.8 528.5 L184.2 527.5 L184.9 526.9 L185.8 526.6 L186.8 526.7 L187.9 527.2 L189.0 528.0 L190.0 529.1 L190.9 530.4 L191.6 531.8 L192.0 533.2 L192.1 534.5 L192.0 535.7 L191.6 536.7 L190.9 537.3 Z"/>
<path d="M209.7 529.5 L208.8 529.8 L207.8 529.7 L206.7 529.2 L205.6 528.4 L204.6 527.3 L203.7 526.0 L203.0 524.6 L202.6 523.2 L202.5 521.9 L202.6 520.7 L203.0 519.7 L203.7 519.1 L204.6 518.8 L205.6 518.9 L206.7 519.4 L207.8 520.2 L208.8 521.3 L209.7 522.6 L210.4 524.0 L210.8 525.4 L210.9 526.7 L210.8 527.9 L210.4 528.9 L209.7 529.5 Z"/>
<path d="M222.5 518.3 L221.6 518.6 L220.6 518.5 L219.5 518.0 L218.4 517.2 L217.4 516.1 L216.5 514.8 L215.8 513.4 L215.4 512.0 L215.3 510.7 L215.4 509.5 L215.8 508.5 L216.5 507.9 L217.4 507.6 L218.4 507.7 L219.5 508.2 L220.6 509.0 L221.6 510.1 L222.5 511.4 L223.2 512.8 L223.6 514.2 L223.7 515.5 L223.6 516.7 L223.2 517.7 L222.5 518.3 Z"/>
<path d="M220.8 490.5 L219.9 490.8 L218.9 490.7 L217.8 490.2 L216.7 489.4 L215.7 488.3 L214.8 487.0 L214.1 485.6 L213.7 484.2 L213.6 482.9 L213.7 481.7 L214.1 480.7 L214.8 480.1 L215.7 479.8 L216.7 479.9 L217.8 480.4 L218.9 481.2 L219.9 482.3 L220.8 483.6 L221.5 485.0 L221.9 486.4 L222.0 487.7 L221.9 488.9 L221.5 489.9 L220.8 490.5 Z"/>
<path d="M157.9 422.8 L157.2 422.9 L156.4 422.6 L155.6 422.0 L154.9 421.1 L154.4 420.0 L154.3 419.0 L154.4 418.1 L154.9 417.6 L155.6 417.5 L156.4 417.8 L157.2 418.4 L157.9 419.3 L158.4 420.4 L158.5 421.4 L158.4 422.3 L157.9 422.8 Z"/>
<path d="M164.6 421.6 L163.9 421.7 L163.1 421.4 L162.3 420.8 L161.6 419.9 L161.1 418.8 L161.0 417.8 L161.1 416.9 L161.6 416.4 L162.3 416.3 L163.1 416.6 L163.9 417.2 L164.6 418.1 L165.1 419.2 L165.2 420.2 L165.1 421.1 L164.6 421.6 Z"/>
<path d="M138.3 440.7 L137.6 440.8 L136.8 440.5 L136.0 439.9 L135.3 439.0 L134.8 437.9 L134.7 436.9 L134.8 436.0 L135.3 435.5 L136.0 435.4 L136.8 435.7 L137.6 436.3 L138.3 437.2 L138.8 438.3 L138.9 439.3 L138.8 440.2 L138.3 440.7 Z"/>
<path d="M142.8 479.8 L142.1 479.9 L141.3 479.6 L140.5 479.0 L139.8 478.1 L139.3 477.0 L139.2 476.0 L139.3 475.1 L139.8 474.6 L140.5 474.5 L141.3 474.8 L142.1 475.4 L142.8 476.3 L143.3 477.4 L143.4 478.4 L143.3 479.3 L142.8 479.8 Z"/>
<path d="M176.1 523.2 L175.4 523.3 L174.6 523.0 L173.8 522.4 L173.1 521.5 L172.6 520.4 L172.5 519.4 L172.6 518.5 L173.1 518.0 L173.8 517.9 L174.6 518.2 L175.4 518.8 L176.1 519.7 L176.6 520.8 L176.7 521.8 L176.6 522.7 L176.1 523.2 Z"/>
<path d="M170.5 332.5 L170.5 360.0"/>
<path d="M165.9 408.4 C167.1 409.4 170.9 411.9 173.2 414.0 C175.4 416.2 178.3 420.1 179.3 421.3"/>
<path d="M166.2 410.0 C167.4 410.9 171.3 413.5 173.6 415.6 C176.0 417.7 179.0 421.5 180.1 422.7"/>
<path d="M166.5 411.6 C167.8 412.5 171.7 415.1 174.1 417.1 C176.5 419.2 179.8 422.9 180.9 424.1"/>
<path d="M202.2 433.0 C203.8 435.6 207.8 442.6 211.9 448.6 C216.1 454.5 221.5 462.0 227.0 468.7 C232.6 475.4 239.4 483.0 245.5 488.9 C251.7 494.7 258.4 500.2 264.0 504.0 C269.6 507.7 276.5 510.3 279.1 511.5 L272.3 525.8 C269.3 524.7 260.3 522.1 253.9 519.1 C247.5 516.0 240.5 512.6 233.8 507.3 C227.0 502.0 219.5 493.9 213.6 487.2 C207.8 480.5 202.8 472.9 198.5 467.0 C194.2 461.2 189.5 454.5 187.7 452.0 Z" class="w"/>
<path d="M176.0 430.8 L189.4 418.5 L202.2 433.0 Q197.2 444.2 187.7 452.0 Z" class="w"/>
<path d="M204.4 462.0 L207.8 457.8"/>
<path d="M278.4 511.2 C277.8 512.1 275.4 514.2 274.5 516.3 C273.6 518.3 272.8 521.7 272.8 523.5 C272.8 525.4 274.2 526.8 274.5 527.4"/>
<path d="M278.4 511.2 L296.3 520.2 L287.4 533.0 L274.5 527.4" class="w"/>
<path d="M278.4 511.2 C277.8 512.1 275.4 514.2 274.5 516.3 C273.6 518.3 272.8 521.7 272.8 523.5 C272.8 525.4 274.2 526.8 274.5 527.4" class="w"/>
<path d="M296.3 520.2 C295.5 520.3 292.7 520.1 291.3 521.0 C289.9 521.8 288.6 523.7 287.9 525.2 C287.2 526.7 287.2 528.9 287.1 530.2 C287.1 531.5 287.3 532.6 287.4 533.0"/>
<path d="M290.2 522.7 L301.0 528.3"/>
<path d="M289.0 524.3 L300.6 529.9"/>
<path d="M290.2 527.4 L301.0 533.0"/>
<path d="M289.0 529.0 L300.6 534.6"/>
<path d="M290.2 532.1 L301.0 537.7"/>
<path d="M289.0 533.7 L300.6 539.3"/>
<path d="M300.2 547.6 L300.2 525.2 L302.5 520.2 L306.4 517.4 L314.8 514.6 L317.6 517.4 L317.6 523.0 L305.3 528.6 L305.3 553.2 Z" class="w"/>
<path d="M305.3 553.2 L305.3 528.6 L308.1 524.6 L318.1 521.6 L319.3 524.3 L312.0 529.7 L309.2 535.3 L309.2 558.8 Z" class="w"/>
<path d="M309.2 558.8 L309.2 535.3 L312.0 530.2 L315.9 528.6 L323.2 524.6 L325.4 526.9 L325.4 557.1 L317.6 562.1 L312.0 562.1 Z" class="w"/>
<path d="M317.6 529.9 L317.6 562.1"/>
<path d="M312.0 530.2 L310.3 535.8 L310.3 559.3"/>
<path d="M302.5 520.2 L303.6 522.4 L303.6 548.7"/>
<path d="M320.9 536.6 L333.5 544.2"/>
<path d="M320.6 540.0 L332.1 546.7"/>
<path d="M320.4 543.1 L331.2 548.9"/>
<path d="M320.4 546.2 L330.4 550.9"/>
<path d="M320.9 549.8 L330.1 553.4"/>
<path d="M320.9 552.6 L329.7 556.0"/>
<path d="M330.9 547.8 C332.1 547.1 333.9 542.8 337.8 543.7 C341.6 544.6 349.2 549.6 354.2 553.2 C359.2 556.9 364.0 561.4 367.8 565.5 C371.7 569.6 374.9 574.4 377.4 577.8 C379.9 581.3 382.0 584.7 382.9 586.0"/>
<path d="M330.9 547.8 C330.7 548.6 329.5 551.1 329.3 552.6 C329.1 554.0 327.7 554.7 329.6 556.7 C331.4 558.6 336.4 560.9 340.5 564.2 C344.6 567.5 350.3 572.4 354.2 576.5 C358.0 580.6 361.3 585.6 363.7 588.8 C366.1 592.0 367.0 594.1 368.5 595.6 C370.0 597.1 371.4 597.9 372.6 597.9 C373.9 598.0 375.4 597.1 376.0 595.9 C376.7 594.7 376.4 592.4 376.7 590.8 C377.1 589.2 377.2 587.2 378.1 586.3 C379.0 585.4 381.1 584.9 382.2 585.4 C383.3 585.8 384.3 587.6 384.5 588.8 C384.7 589.9 384.3 591.3 383.6 592.2 C382.8 593.1 381.2 594.0 380.1 594.0 C379.1 594.0 377.6 592.5 377.1 592.2"/>
<path d="M403.6 698.1 C403.6 689.5 403.8 657.3 403.4 646.2 C403.0 635.0 402.5 636.4 401.3 631.1 C400.2 625.9 398.4 620.2 396.5 614.7 C394.7 609.3 392.0 601.3 390.4 598.3 C388.8 595.4 388.1 596.9 387.0 597.0 C385.8 597.1 384.1 597.9 383.6 599.0 C383.0 600.2 383.7 602.3 383.6 603.8 C383.4 605.3 383.7 607.0 382.9 607.9 C382.1 608.8 380.0 609.4 378.8 609.3 C377.5 609.2 375.9 608.2 375.4 607.2 C374.8 606.2 374.9 604.3 375.4 603.1 C375.8 602.0 376.9 600.7 378.1 600.4 C379.2 600.0 381.3 600.5 382.2 601.1 C383.1 601.6 383.3 603.3 383.6 603.8"/>
<path d="M375.4 607.2 C376.2 609.2 378.5 614.4 380.1 618.8 C381.7 623.3 383.8 628.9 384.9 633.9 C386.0 638.9 386.4 638.2 386.7 648.9 C387.0 659.6 386.7 689.9 386.7 698.1"/>
<path d="M386.4 690.0 L386.4 698.5"/>
<path d="M403.9 690.0 L403.9 698.5"/>
<path d="M403.9 698.5 L403.9 698.9 L403.7 699.2 L403.5 699.6 L403.1 700.0 L402.7 700.3 L402.2 700.6 L401.7 700.9 L401.0 701.2 L400.3 701.4 L399.5 701.6 L398.7 701.8 L397.9 701.9 L397.0 702.0 L396.1 702.1 L395.1 702.1 L394.2 702.1 L393.3 702.0 L392.4 701.9 L391.6 701.8 L390.8 701.6 L390.0 701.4 L389.3 701.2 L388.6 700.9 L388.1 700.6 L387.6 700.3 L387.2 700.0 L386.8 699.6 L386.6 699.2 L386.4 698.9 L386.4 698.5"/>
<path d="M389.3 702.3 L385.7 724.8"/>
<path d="M390.5 703.4 L393.5 731.5"/>
<path d="M391.5 703.4 L394.1 731.5"/>
<path d="M395.5 703.4 L398.5 732.0"/>
<path d="M396.5 703.4 L399.5 731.5"/>
<path d="M401.1 701.9 L406.0 727.0"/>
<path d="M380.4 730.5 L379.4 729.7 L378.7 728.9 L378.3 728.0 L378.2 727.1 L378.5 726.2 L379.0 725.3 L379.9 724.5 L381.0 723.7 L382.5 723.0 L384.1 722.3 L386.0 721.8 L388.0 721.4 L390.2 721.1 L392.5 720.9 L394.8 720.8 L397.1 720.9 L399.4 721.1 L401.6 721.4 L403.6 721.8 L405.5 722.3 L407.1 723.0 L408.6 723.7 L409.7 724.5 L410.6 725.3 L411.1 726.2 L411.4 727.1 L411.3 728.0 L410.9 728.9 L410.2 729.7 L409.2 730.5"/>
<path d="M410.8 729.0 L410.7 729.1 L410.6 729.3 L410.4 729.5 L410.3 729.6 L410.1 729.8 L410.0 729.9 L409.8 730.1 L409.6 730.3 L409.4 730.4 L409.2 730.5 L409.0 730.7 L408.7 730.8 L408.5 731.0 L408.2 731.1 L408.0 731.3 L407.7 731.4 L407.4 731.5 L407.1 731.6 L406.8 731.8 L406.5 731.9 L406.2 732.0 L405.9 732.1 L405.6 732.2 L405.2 732.4 L404.9 732.5 L404.6 732.6 L404.2 732.7 L403.8 732.8 L403.5 732.8 L403.1 732.9"/>
<path d="M386.5 732.9 L386.1 732.8 L385.8 732.8 L385.4 732.7 L385.0 732.6 L384.7 732.5 L384.4 732.4 L384.0 732.2 L383.7 732.1 L383.4 732.0 L383.1 731.9 L382.8 731.8 L382.5 731.6 L382.2 731.5 L381.9 731.4 L381.6 731.3 L381.4 731.1 L381.1 731.0 L380.9 730.8 L380.6 730.7 L380.4 730.5 L380.2 730.4 L380.0 730.3 L379.8 730.1 L379.6 729.9 L379.5 729.8 L379.3 729.6 L379.2 729.5 L379.0 729.3 L378.9 729.1 L378.8 729.0"/>
<path d="M378.2 727.3 L378.2 745.5"/>
<path d="M411.4 727.3 L411.4 745.5"/>
<path d="M374.7 748.3 L374.7 748.2 L374.7 748.0 L374.7 747.9 L374.8 747.7 L374.8 747.6 L374.8 747.5 L374.9 747.3 L375.0 747.2 L375.0 747.1 L375.1 746.9 L375.2 746.8 L375.3 746.7 L375.4 746.5 L375.5 746.4 L375.6 746.3 L375.7 746.1 L375.8 746.0 L376.0 745.9 L376.1 745.7 L376.3 745.6 L376.4 745.5 L376.6 745.3 L376.7 745.2 L376.9 745.1 L377.1 745.0 L377.3 744.9 L377.5 744.7 L377.7 744.6 L377.9 744.5 L378.1 744.4"/>
<path d="M411.5 744.4 L411.7 744.5 L411.9 744.6 L412.1 744.7 L412.3 744.9 L412.5 745.0 L412.7 745.1 L412.9 745.2 L413.0 745.3 L413.2 745.5 L413.3 745.6 L413.5 745.7 L413.6 745.9 L413.8 746.0 L413.9 746.1 L414.0 746.3 L414.1 746.4 L414.2 746.5 L414.3 746.7 L414.4 746.8 L414.5 746.9 L414.6 747.1 L414.6 747.2 L414.7 747.3 L414.8 747.5 L414.8 747.6 L414.8 747.7 L414.9 747.9 L414.9 748.0 L414.9 748.2 L414.9 748.3"/>
<path d="M414.9 748.3 L414.8 749.0 L414.5 749.8 L413.9 750.5 L413.2 751.1 L412.2 751.8 L411.1 752.4 L409.7 753.0 L408.2 753.5 L406.6 754.0 L404.9 754.4 L403.0 754.7 L401.0 755.0 L399.0 755.1 L396.9 755.3 L394.8 755.3 L392.7 755.3 L390.6 755.1 L388.6 755.0 L386.6 754.7 L384.8 754.4 L383.0 754.0 L381.4 753.5 L379.9 753.0 L378.5 752.4 L377.4 751.8 L376.4 751.1 L375.7 750.5 L375.1 749.8 L374.8 749.0 L374.7 748.3"/>
<path d="M374.7 748.3 L374.7 758.5"/>
<path d="M414.9 748.3 L414.9 758.5"/>
<path d="M414.9 758.5 L414.8 759.3 L414.5 760.1 L413.9 760.8 L413.2 761.6 L412.2 762.2 L411.1 762.9 L409.7 763.5 L408.2 764.1 L406.6 764.6 L404.9 765.0 L403.0 765.4 L401.0 765.6 L399.0 765.8 L396.9 766.0 L394.8 766.0 L392.7 766.0 L390.6 765.8 L388.6 765.6 L386.6 765.4 L384.8 765.0 L383.0 764.6 L381.4 764.1 L379.9 763.5 L378.5 762.9 L377.4 762.2 L376.4 761.6 L375.7 760.8 L375.1 760.1 L374.8 759.3 L374.7 758.5"/>
<path d="M412.6 764.2 L412.7 765.0 L412.5 765.7 L412.2 766.4 L411.6 767.1 L410.8 767.7 L409.8 768.3 L408.6 768.9 L407.3 769.4 L405.8 769.9 L404.2 770.3 L402.5 770.7 L400.6 770.9 L398.7 771.1 L396.8 771.3 L394.8 771.3 L392.8 771.3 L390.9 771.1 L389.0 770.9 L387.1 770.7 L385.4 770.3 L383.8 769.9 L382.3 769.4 L381.0 768.9 L379.8 768.3 L378.8 767.7 L378.0 767.1 L377.4 766.4 L377.1 765.7 L376.9 765.0 L377.0 764.2"/>
<path d="M412.6 769.0 L412.7 769.8 L412.5 770.5 L412.2 771.2 L411.6 771.9 L410.8 772.5 L409.8 773.1 L408.6 773.7 L407.3 774.2 L405.8 774.7 L404.2 775.1 L402.5 775.5 L400.6 775.7 L398.7 775.9 L396.8 776.1 L394.8 776.1 L392.8 776.1 L390.9 775.9 L389.0 775.7 L387.1 775.5 L385.4 775.1 L383.8 774.7 L382.3 774.2 L381.0 773.7 L379.8 773.1 L378.8 772.5 L378.0 771.9 L377.4 771.2 L377.1 770.5 L376.9 769.8 L377.0 769.0"/>
<path d="M412.6 774.4 L412.7 775.2 L412.5 775.9 L412.2 776.6 L411.6 777.3 L410.8 777.9 L409.8 778.5 L408.6 779.1 L407.3 779.6 L405.8 780.1 L404.2 780.5 L402.5 780.9 L400.6 781.1 L398.7 781.3 L396.8 781.5 L394.8 781.5 L392.8 781.5 L390.9 781.3 L389.0 781.1 L387.1 780.9 L385.4 780.5 L383.8 780.1 L382.3 779.6 L381.0 779.1 L379.8 778.5 L378.8 777.9 L378.0 777.3 L377.4 776.6 L377.1 775.9 L376.9 775.2 L377.0 774.4"/>
<path d="M376.9 762.5 L376.9 775.0"/>
<path d="M412.7 762.5 L412.7 775.0"/>
<path d="M639.4 503.5 L639.4 529.5"/>
<path d="M650.3 654.0 C650.1 654.9 650.1 657.9 649.1 659.5 C648.0 661.2 645.0 663.1 644.1 663.8"/>
<path d="M648.8 654.2 C648.6 655.2 648.6 658.1 647.6 659.8 C646.6 661.4 643.5 663.4 642.7 664.1"/>
<path d="M655.2 652.8 C655.2 654.1 656.0 658.4 655.2 660.8 C654.4 663.1 651.9 665.7 650.3 666.9 C648.7 668.1 646.2 667.9 645.4 668.1"/>
<path d="M653.7 653.0 C653.7 654.3 654.6 658.6 653.7 661.0 C652.9 663.4 650.5 665.9 648.8 667.2 C647.2 668.4 644.7 668.2 643.9 668.4"/>
<path d="M658.9 652.1 C659.1 653.6 660.5 658.3 660.1 660.8 C659.7 663.2 658.7 665.2 656.4 666.9 C654.2 668.7 648.2 670.5 646.6 671.2"/>
<path d="M657.4 652.4 C657.6 653.8 659.1 658.5 658.7 661.0 C658.2 663.5 657.2 665.4 655.0 667.2 C652.7 668.9 646.8 670.7 645.1 671.5"/>
<path d="M662.6 652.1 C662.8 653.8 664.4 659.1 663.8 662.0 C663.2 664.9 661.6 667.5 658.9 669.4 C656.2 671.2 649.7 672.5 647.8 673.1"/>
<path d="M661.1 652.4 C661.3 654.0 663.0 659.4 662.4 662.2 C661.7 665.1 660.1 667.8 657.4 669.6 C654.8 671.5 648.2 672.7 646.4 673.3"/>
<path d="M666.9 650.9 C667.4 652.8 669.9 658.5 670.0 662.0 C670.1 665.5 668.7 669.2 667.5 671.8 C666.3 674.5 663.4 677.0 662.6 678.0"/>
<path d="M665.4 651.2 C665.9 653.0 668.4 658.8 668.5 662.2 C668.6 665.7 667.3 669.4 666.0 672.1 C664.8 674.7 661.9 677.2 661.1 678.2"/>
<path d="M671.2 650.3 C671.7 652.3 674.3 658.2 674.3 662.0 C674.3 665.8 673.0 670.1 671.2 673.1 C669.5 676.0 665.1 678.7 663.8 679.8"/>
<path d="M669.7 650.5 C670.2 652.5 672.8 658.4 672.8 662.2 C672.8 666.0 671.5 670.3 669.7 673.3 C668.0 676.3 663.6 679.0 662.4 680.1"/>
<path d="M676.1 649.1 C676.5 651.2 678.8 657.8 678.6 662.0 C678.4 666.2 677.2 671.0 674.9 674.3 C672.6 677.6 666.7 680.4 665.1 681.7"/>
<path d="M674.7 649.3 C675.1 651.5 677.3 658.0 677.1 662.2 C676.9 666.4 675.7 671.3 673.4 674.5 C671.2 677.8 665.2 680.7 663.6 681.9"/>
<path d="M681.1 647.8 C681.5 650.0 683.9 656.6 683.5 660.8 C683.1 665.0 681.4 669.3 678.6 673.1 C675.8 676.8 668.9 681.5 666.9 683.2"/>
<path d="M679.6 648.1 C680.0 650.2 682.4 656.8 682.0 661.0 C681.6 665.2 679.9 669.6 677.1 673.3 C674.3 677.0 667.4 681.7 665.4 683.4"/>
<path d="M579.2 552.9 L606.1 536.9 L664.8 524.3 L666.5 529.4 L648.9 540.3 L638.8 539.4 Z" class="w"/>
<path d="M648.4 539.3 L675.9 529.9 L679.7 534.9 L652.2 544.3 Z" class="w"/>
<path d="M669.9 532.6 L674.7 532.1 L673.9 533.7"/>
<path d="M653.5 543.4 L654.0 540.6"/>
<path d="M658.4 547.7 L685.9 538.3 L689.7 543.3 L662.2 552.7 Z" class="w"/>
<path d="M679.9 541.0 L684.7 540.5 L683.9 542.1"/>
<path d="M663.5 551.9 L664.0 549.1"/>
<path d="M662.6 556.9 L690.1 547.5 L693.9 552.5 L666.4 561.9 Z" class="w"/>
<path d="M684.1 550.2 L688.9 549.7 L688.1 551.3"/>
<path d="M667.7 561.0 L668.2 558.2"/>
<path d="M666.8 566.1 L694.3 556.7 L698.1 561.7 L670.6 571.1 Z" class="w"/>
<path d="M688.2 559.4 L693.1 558.9 L692.3 560.5"/>
<path d="M671.9 570.2 L672.4 567.5"/>
<path d="M675.7 595.5 L703.2 586.1 L707.0 591.1 L679.5 600.5 Z" class="w"/>
<path d="M697.2 588.8 L702.0 588.3 L701.2 589.9"/>
<path d="M680.8 599.6 L681.3 596.9"/>
<path d="M670.7 575.5 L680.7 570.5 L690.0 591.4 L680.7 598.2 Z" class="w"/>
<path d="M680.7 570.5 L687.4 588.9 L690.0 591.4"/>
<path d="M687.4 588.9 L680.7 594.8"/>
<path d="M683.6 603.7 L711.1 594.3 L714.9 599.3 L687.4 608.7 Z" class="w"/>
<path d="M705.1 597.0 L709.9 596.5 L709.1 598.1"/>
<path d="M688.7 607.9 L689.2 605.1"/>
<path d="M687.8 612.9 L715.3 603.5 L719.1 608.5 L691.6 617.9 Z" class="w"/>
<path d="M709.2 606.2 L714.1 605.7 L713.3 607.3"/>
<path d="M692.9 617.0 L693.4 614.2"/>
<path d="M691.1 622.1 L718.6 612.7 L722.4 617.7 L694.9 627.1 Z" class="w"/>
<path d="M712.6 615.4 L717.4 614.9 L716.6 616.5"/>
<path d="M696.2 626.2 L696.7 623.5"/>
<path d="M691.8 632.2 L712.1 625.2 L715.9 630.2 L695.6 637.2 Z" class="w"/>
<path d="M707.7 627.4 L710.9 627.4 L711.2 628.7"/>
<path d="M696.9 636.4 L697.4 633.6"/>
<path d="M579.2 552.9 L638.8 539.4 L690.8 631.5 L687.4 645.5 L627.0 659.0 L612.8 647.2 L576.7 567.1 Z" class="w"/>
<path d="M640.4 538.6 L691.8 629.6"/>
<path d="M663.7 595.1 L663.1 595.2 L662.3 595.1 L661.5 594.6 L660.8 593.9 L660.1 593.0 L659.7 592.0 L659.4 591.0 L659.4 590.0 L659.7 589.3 L660.1 588.8 L660.8 588.7 L661.5 588.8 L662.3 589.3 L663.1 590.0 L663.7 590.9 L664.2 591.9 L664.5 592.9 L664.5 593.9 L664.2 594.6 L663.7 595.1 Z"/>
<path d="M605.9 608.8 L605.2 609.0 L604.5 608.8 L603.7 608.4 L602.9 607.7 L602.3 606.7 L601.8 605.7 L601.5 604.7 L601.5 603.8 L601.8 603.1 L602.3 602.6 L602.9 602.4 L603.7 602.6 L604.5 603.0 L605.2 603.8 L605.9 604.7 L606.3 605.7 L606.6 606.7 L606.6 607.6 L606.3 608.3 L605.9 608.8 Z"/>
<path d="M603.4 681.0 L634.2 662.4 C635.4 662.6 639.5 662.7 641.4 663.6 C643.3 664.4 644.7 666.1 645.4 667.6 C646.2 669.1 645.8 671.7 645.9 672.5 L614.5 694.9" class="w"/>
<path d="M603.4 681.0 C602.2 681.5 601.3 684.0 601.8 685.9 C602.3 687.9 604.1 691.1 606.3 692.6 C608.4 694.1 613.4 695.5 614.5 694.9 C615.7 694.2 614.0 690.6 613.0 688.6 C612.0 686.7 610.1 684.5 608.5 683.2 C606.9 682.0 604.5 680.6 603.4 681.0 Z" class="w"/>
<path d="M605.1 682.6 L581.7 690.0"/>
<path d="M605.8 684.6 L583.7 693.5"/>
<path d="M606.5 686.6 L585.7 697.1"/>
<path d="M607.2 688.6 L587.7 700.7"/>
<path d="M607.8 690.6 L589.7 704.3"/>
<path d="M608.5 692.6 L591.7 707.9"/>
<path d="M516.1 715.9 L544.1 704.0 L545.0 702.3 L571.6 688.8 L571.6 688.8 C572.7 688.9 576.1 688.4 578.3 689.5 C580.5 690.6 583.1 692.9 585.0 695.5 C587.0 698.2 588.9 702.1 589.9 705.6 C591.0 709.2 591.1 714.9 591.3 716.8 L562.6 735.8 L536.9 755.3 Z" class="w"/>
<path d="M544.1 704.0 C545.5 705.1 549.9 707.0 552.6 710.1 C555.3 713.1 558.7 718.7 560.4 722.4 C562.2 726.1 562.7 730.2 563.1 732.5 C563.5 734.7 562.7 735.3 562.6 735.8"/>
<path d="M537.7 754.6 L536.4 755.2 L535.1 755.6 L533.6 755.7 L532.0 755.6 L530.4 755.3 L528.7 754.7 L527.1 753.9 L525.3 753.0 L523.7 751.8 L522.0 750.4 L520.4 748.9 L518.8 747.2 L517.3 745.3 L516.0 743.4 L514.7 741.3 L513.6 739.2 L512.6 737.1 L511.7 734.9 L511.0 732.7 L510.5 730.5 L510.1 728.4 L510.0 726.3 L510.0 724.3 L510.1 722.5 L510.5 720.8 L511.0 719.2 L511.7 717.8 L512.6 716.6 L513.6 715.6 L514.7 714.8 L516.0 714.2 L517.3 713.8 L518.8 713.7 L520.4 713.8 L522.0 714.1 L523.7 714.7 L525.3 715.5 L527.1 716.4 L528.7 717.6 L530.4 719.0 L532.0 720.5 L533.6 722.2 L535.1 724.1 L536.4 726.0 L537.7 728.1 L538.8 730.2 L539.8 732.3 L540.7 734.5 L541.4 736.7 L541.9 738.9 L542.3 741.0 L542.4 743.1 L542.4 745.1 L542.3 746.9 L541.9 748.6 L541.4 750.2 L540.7 751.6 L539.8 752.8 L538.8 753.8 L537.7 754.6 Z" class="w"/>
<path d="M536.5 751.2 L535.5 751.6 L534.3 751.9 L533.1 752.0 L531.8 752.0 L530.5 751.7 L529.1 751.2 L527.7 750.6 L526.3 749.8 L524.9 748.8 L523.5 747.7 L522.2 746.4 L520.9 745.0 L519.7 743.5 L518.5 741.9 L517.5 740.2 L516.6 738.4 L515.7 736.6 L515.0 734.8 L514.5 733.0 L514.0 731.2 L513.7 729.5 L513.6 727.8 L513.6 726.1 L513.7 724.6 L514.0 723.2 L514.5 721.9 L515.0 720.7 L515.7 719.7 L516.6 718.9 L517.5 718.2 L518.5 717.8 L519.7 717.5 L520.9 717.4 L522.2 717.4 L523.5 717.7 L524.9 718.2 L526.3 718.8 L527.7 719.6 L529.1 720.6 L530.5 721.7 L531.8 723.0 L533.1 724.4 L534.3 725.9 L535.5 727.5 L536.5 729.2 L537.4 731.0 L538.3 732.8 L539.0 734.6 L539.5 736.4 L540.0 738.2 L540.3 739.9 L540.4 741.6 L540.4 743.3 L540.3 744.8 L540.0 746.2 L539.5 747.5 L539.0 748.7 L538.3 749.7 L537.4 750.5 L536.5 751.2 Z"/>
<path d="M526.3 709.6 L528.0 707.7 L538.6 712.7 L538.0 715.8 L535.8 716.4 L526.3 711.3 Z" class="w"/>
<path d="M527.1 709.5 L528.4 708.3 L536.9 712.2 L535.3 713.4 Z" class="k"/>
<path d="M522.4 724.0 L522.4 731.8"/>
<path d="M522.4 727.8 L528.0 725.1"/>
<path d="M528.0 725.1 L528.0 729.6"/>
<path d="M522.4 731.8 L526.8 734.0"/>
<path d="M531.3 737.4 L535.8 735.1"/>
<path d="M531.3 737.4 L533.6 740.1"/>
<path d="M640.9 685.9 C641.5 683.5 642.8 682.9 645.4 681.5 C648.0 680.0 653.2 676.6 656.6 677.0 C660.0 677.4 663.9 681.3 665.5 683.7 C667.2 686.1 667.3 689.6 666.7 691.5 C666.0 693.5 661.5 692.9 661.5 695.3 C661.5 697.7 666.0 702.4 666.7 706.1 C667.3 709.7 669.1 712.6 665.5 717.2 C662.0 721.9 649.9 732.2 645.4 734.0 C640.9 735.9 640.6 730.9 638.7 728.4 C636.8 726.0 632.7 722.5 634.2 719.5 C635.7 716.5 645.2 712.8 647.7 710.5 C650.1 708.3 649.7 708.5 648.8 706.1 C647.8 703.6 643.4 699.4 642.1 696.0 C640.8 692.6 640.4 688.4 640.9 685.9 Z" class="w"/>
<path d="M634.2 719.5 C635.2 719.7 638.0 718.2 639.8 720.6 C641.7 723.0 644.5 731.8 645.4 734.0"/>
<path d="M635.3 720.6 L618.6 726.2"/>
<path d="M636.5 722.8 L619.9 729.8"/>
<path d="M637.6 725.1 L621.3 733.4"/>
<path d="M638.7 727.3 L622.6 736.9"/>
<path d="M639.8 729.6 L623.9 740.5"/>
<path d="M551.9 751.9 L607.4 724.0 L607.4 724.0 C609.2 724.5 615.6 725.1 618.6 727.3 C621.6 729.6 624.1 733.8 625.3 737.4 C626.5 740.9 625.7 746.7 625.7 748.6 L596.2 769.1 L573.8 784.4 Z" class="w"/>
<path d="M577.2 740.7 C579.2 742.0 586.3 745.0 589.5 748.6 C592.7 752.1 595.0 758.4 596.2 762.0 C597.4 765.5 596.6 768.5 596.6 769.8"/>
<path d="M572.9 785.5 L571.8 786.0 L570.6 786.3 L569.3 786.4 L568.0 786.3 L566.6 786.0 L565.2 785.5 L563.7 784.9 L562.3 784.0 L560.8 783.0 L559.4 781.9 L558.0 780.5 L556.7 779.1 L555.4 777.5 L554.2 775.8 L553.2 774.1 L552.2 772.3 L551.3 770.4 L550.6 768.5 L550.0 766.7 L549.5 764.8 L549.2 763.0 L549.1 761.2 L549.1 759.5 L549.2 757.9 L549.5 756.5 L550.0 755.1 L550.6 753.9 L551.3 752.9 L552.2 752.0 L553.1 751.3 L554.2 750.8 L555.4 750.5 L556.7 750.4 L558.0 750.5 L559.4 750.8 L560.8 751.3 L562.3 751.9 L563.7 752.8 L565.2 753.8 L566.6 754.9 L568.0 756.3 L569.3 757.7 L570.6 759.3 L571.8 761.0 L572.8 762.7 L573.8 764.5 L574.7 766.4 L575.4 768.3 L576.0 770.1 L576.5 772.0 L576.8 773.8 L576.9 775.6 L576.9 777.3 L576.8 778.9 L576.5 780.3 L576.0 781.7 L575.4 782.9 L574.7 783.9 L573.8 784.8 L572.9 785.5 Z" class="w"/>
<path d="M571.8 782.3 L570.9 782.7 L570.0 782.9 L568.9 783.0 L567.9 782.9 L566.7 782.7 L565.6 782.3 L564.4 781.8 L563.2 781.1 L562.0 780.3 L560.9 779.3 L559.7 778.3 L558.7 777.1 L557.6 775.8 L556.7 774.4 L555.8 773.0 L555.0 771.5 L554.3 770.0 L553.7 768.5 L553.2 767.0 L552.9 765.5 L552.6 764.0 L552.5 762.6 L552.5 761.2 L552.6 759.9 L552.9 758.7 L553.2 757.6 L553.7 756.6 L554.3 755.8 L555.0 755.1 L555.8 754.5 L556.7 754.1 L557.6 753.9 L558.7 753.8 L559.7 753.9 L560.9 754.1 L562.0 754.5 L563.2 755.0 L564.4 755.7 L565.6 756.5 L566.7 757.5 L567.9 758.5 L568.9 759.7 L570.0 761.0 L570.9 762.4 L571.8 763.8 L572.6 765.3 L573.3 766.8 L573.9 768.3 L574.4 769.8 L574.7 771.3 L575.0 772.8 L575.1 774.2 L575.1 775.6 L575.0 776.9 L574.7 778.1 L574.4 779.2 L573.9 780.2 L573.3 781.0 L572.6 781.7 L571.8 782.3 Z"/>
<path d="M562.1 747.1 L563.5 745.4 L571.6 749.4 L571.3 752.1 L569.4 752.7 L562.1 748.8 Z" class="w"/>
<path d="M562.8 747.0 L564.0 746.0 L570.2 749.1 L568.9 750.1 Z" class="k"/>
<path d="M562.6 763.1 L562.6 769.8"/>
<path d="M562.6 766.5 L567.1 764.2"/>
<path d="M567.1 764.2 L567.1 773.2"/>
<path d="M567.1 769.8 L570.5 771.6"/>
<path d="M759.3 498.5 L759.3 524.0"/>
<path d="M720.1 558.2 L689.1 577.2"/>
<path d="M767.2 540.9 L766.8 541.1 L766.3 541.2 L765.8 541.3 L765.3 541.3 L764.8 541.1 L764.2 541.0 L763.7 540.7 L763.1 540.4 L762.6 540.0 L762.0 539.5 L761.5 539.0 L761.0 538.5 L760.5 537.9 L760.0 537.2 L759.6 536.5 L759.2 535.8 L758.9 535.1 L758.6 534.4 L758.4 533.7 L758.2 533.0 L758.1 532.3 L758.0 531.6 L758.0 530.9 L758.1 530.3 L758.2 529.7 L758.4 529.2 L758.6 528.8 L758.9 528.4 L759.2 528.0 L759.6 527.8 L764.8 524.8 L765.2 524.6 L765.7 524.5 L766.2 524.4 L766.7 524.4 L767.2 524.6 L767.8 524.7 L768.3 525.0 L768.9 525.3 L769.4 525.7 L770.0 526.2 L770.5 526.7 L771.0 527.2 L771.5 527.8 L772.0 528.5 L772.4 529.2 L772.8 529.9 L773.1 530.6 L773.4 531.3 L773.6 532.0 L773.8 532.7 L773.9 533.4 L774.0 534.1 L774.0 534.8 L773.9 535.4 L773.8 536.0 L773.6 536.5 L773.4 536.9 L773.1 537.3 L772.8 537.7 L772.4 537.9 Z" class="w"/>
<path d="M762.5 527.7 L767.7 524.7"/>
<path d="M766.9 531.6 L772.1 528.6"/>
<path d="M768.8 537.5 L774.0 534.5"/>
<path d="M766.1 525.7 L766.6 525.7 L767.2 525.7 L767.8 525.9 L768.4 526.1 L769.0 526.5 L769.6 527.0 L770.2 527.5 L770.7 528.1 L771.3 528.8 L771.7 529.6 L772.1 530.3 L772.5 531.1 L772.7 531.9 L772.9 532.7 L773.0 533.4 L773.0 534.2 L772.9 534.8 L772.8 535.4 L772.5 535.9 L772.2 536.4"/>
<path d="M766.2 544.2 L765.8 544.4 L765.4 544.5 L764.9 544.6 L764.4 544.6 L763.9 544.6 L763.4 544.5 L762.9 544.4 L762.3 544.2 L761.8 544.0 L761.2 543.7 L760.7 543.3 L760.1 543.0 L759.6 542.5 L759.1 542.0 L758.6 541.5 L758.1 541.0 L757.6 540.4 L757.1 539.8 L756.7 539.1 L756.3 538.5 L755.9 537.8 L755.6 537.1 L755.3 536.4 L755.0 535.7 L754.8 535.0 L754.6 534.3 L754.4 533.6 L754.3 532.9 L754.3 532.2 L754.2 531.6 L754.3 530.9 L754.3 530.3 L754.4 529.8 L754.6 529.3 L754.8 528.8 L755.0 528.3 L755.3 527.9 L755.6 527.6 L755.9 527.3 L756.3 527.0 L758.5 525.8 L758.9 525.6 L759.3 525.4 L759.7 525.3 L760.2 525.3 L760.7 525.3 L761.2 525.4 L761.8 525.5 L762.3 525.7 L762.9 526.0 L763.4 526.3 L764.0 526.6 L764.5 527.0 L765.0 527.4 L765.6 527.9 L766.1 528.4 L766.6 529.0 L767.1 529.6 L767.5 530.2 L767.9 530.8 L768.4 531.5 L768.7 532.2 L769.1 532.9 L769.4 533.6 L769.6 534.3 L769.9 535.0 L770.1 535.7 L770.2 536.4 L770.3 537.1 L770.4 537.7 L770.4 538.4 L770.4 539.0 L770.3 539.6 L770.2 540.2 L770.1 540.7 L769.9 541.2 L769.6 541.6 L769.4 542.0 L769.1 542.4 L768.7 542.7 L768.4 542.9 Z" class="w"/>
<path d="M766.2 544.2 L765.5 544.5 L764.8 544.6 L764.0 544.6 L763.2 544.5 L762.3 544.2 L761.5 543.8 L760.6 543.3 L759.7 542.6 L758.9 541.8 L758.1 541.0 L757.3 540.0 L756.6 539.0 L756.0 537.9 L755.4 536.8 L755.0 535.7 L754.7 534.5 L754.4 533.4 L754.3 532.3 L754.2 531.3 L754.3 530.3 L754.5 529.5 L754.8 528.7 L755.2 528.0 L755.7 527.5 L756.3 527.0 L756.9 526.7 L757.7 526.6 L758.5 526.6 L759.3 526.7 L760.1 527.0 L761.0 527.4 L761.9 527.9 L762.8 528.6 L763.6 529.4 L764.4 530.2 L765.2 531.2 L765.9 532.2 L766.5 533.3 L767.0 534.4 L767.5 535.5 L767.8 536.7 L768.1 537.8 L768.2 538.9 L768.2 539.9 L768.2 540.9 L768.0 541.7 L767.7 542.5 L767.3 543.2 L766.8 543.7 L766.2 544.2 Z"/>
<path d="M726.8 561.9 L726.5 562.1 L726.2 562.2 L725.8 562.2 L725.4 562.2 L725.0 562.1 L724.6 562.0 L724.2 561.8 L723.8 561.5 L723.4 561.3 L723.0 560.9 L722.6 560.5 L722.2 560.1 L721.8 559.7 L721.5 559.2 L721.2 558.7 L720.9 558.2 L720.7 557.7 L720.5 557.1 L720.3 556.6 L720.2 556.1 L720.1 555.6 L720.0 555.1 L720.0 554.6 L720.1 554.1 L720.2 553.7 L720.3 553.3 L720.5 553.0 L720.7 552.7 L720.9 552.4 L721.2 552.3 L758.4 530.8 L758.7 530.6 L759.1 530.5 L759.4 530.5 L759.8 530.5 L760.2 530.6 L760.6 530.7 L761.0 530.9 L761.4 531.2 L761.9 531.4 L762.3 531.8 L762.7 532.2 L763.0 532.6 L763.4 533.0 L763.7 533.5 L764.0 534.0 L764.3 534.5 L764.6 535.0 L764.8 535.6 L764.9 536.1 L765.1 536.6 L765.1 537.1 L765.2 537.6 L765.2 538.1 L765.1 538.6 L765.1 539.0 L764.9 539.4 L764.8 539.7 L764.6 540.0 L764.3 540.3 L764.0 540.4 Z" class="w"/>
<path d="M723.4 550.4 L723.8 550.2 L724.1 550.0 L724.5 549.9 L724.9 549.9 L725.4 549.9 L725.9 550.0 L726.3 550.2 L726.8 550.4 L727.3 550.7 L727.8 551.1 L728.3 551.5 L728.7 552.0 L729.2 552.5 L729.6 553.1 L729.9 553.7 L730.3 554.3 L730.6 554.9 L730.8 555.5 L731.0 556.2 L731.1 556.8 L731.2 557.4 L731.2 558.0 L731.2 558.5 L731.1 559.0 L730.9 559.5 L730.7 559.9 L730.5 560.3 L730.2 560.5 L729.9 560.8 L729.5 560.9"/>
<path d="M727.1 548.4 L727.4 548.1 L727.7 547.9 L728.1 547.8 L728.6 547.8 L729.0 547.8 L729.5 547.9 L730.0 548.1 L730.5 548.3 L730.9 548.6 L731.4 549.0 L731.9 549.4 L732.4 549.9 L732.8 550.4 L733.2 551.0 L733.6 551.6 L733.9 552.2 L734.2 552.8 L734.4 553.5 L734.6 554.1 L734.7 554.7 L734.8 555.3 L734.8 555.9 L734.8 556.4 L734.7 556.9 L734.6 557.4 L734.4 557.8 L734.1 558.2 L733.8 558.4 L733.5 558.7 L733.1 558.8"/>
<path d="M730.7 546.3 L731.0 546.0 L731.4 545.8 L731.7 545.7 L732.2 545.7 L732.6 545.7 L733.1 545.8 L733.6 546.0 L734.1 546.2 L734.6 546.6 L735.0 546.9 L735.5 547.3 L736.0 547.8 L736.4 548.3 L736.8 548.9 L737.2 549.5 L737.5 550.1 L737.8 550.7 L738.0 551.4 L738.2 552.0 L738.3 552.6 L738.4 553.2 L738.4 553.8 L738.4 554.4 L738.3 554.9 L738.2 555.3 L738.0 555.7 L737.7 556.1 L737.4 556.4 L737.1 556.6 L736.7 556.7"/>
<path d="M734.3 544.2 L734.6 543.9 L735.0 543.8 L735.4 543.6 L735.8 543.6 L736.2 543.6 L736.7 543.7 L737.2 543.9 L737.7 544.2 L738.2 544.5 L738.7 544.8 L739.1 545.3 L739.6 545.7 L740.0 546.3 L740.4 546.8 L740.8 547.4 L741.1 548.0 L741.4 548.6 L741.6 549.3 L741.8 549.9 L742.0 550.5 L742.0 551.1 L742.1 551.7 L742.0 552.3 L741.9 552.8 L741.8 553.2 L741.6 553.6 L741.3 554.0 L741.0 554.3 L740.7 554.5 L740.3 554.6"/>
<path d="M737.9 542.1 L738.2 541.8 L738.6 541.7 L739.0 541.6 L739.4 541.5 L739.9 541.5 L740.3 541.6 L740.8 541.8 L741.3 542.1 L741.8 542.4 L742.3 542.7 L742.7 543.2 L743.2 543.6 L743.6 544.2 L744.0 544.7 L744.4 545.3 L744.7 545.9 L745.0 546.6 L745.3 547.2 L745.4 547.8 L745.6 548.4 L745.6 549.1 L745.7 549.6 L745.6 550.2 L745.5 550.7 L745.4 551.1 L745.2 551.6 L745.0 551.9 L744.7 552.2 L744.3 552.4 L743.9 552.6"/>
<path d="M741.5 540.0 L741.8 539.8 L742.2 539.6 L742.6 539.5 L743.0 539.4 L743.5 539.5 L743.9 539.6 L744.4 539.7 L744.9 540.0 L745.4 540.3 L745.9 540.7 L746.4 541.1 L746.8 541.6 L747.3 542.1 L747.7 542.6 L748.0 543.2 L748.3 543.8 L748.6 544.5 L748.9 545.1 L749.1 545.7 L749.2 546.4 L749.3 547.0 L749.3 547.5 L749.2 548.1 L749.2 548.6 L749.0 549.1 L748.8 549.5 L748.6 549.8 L748.3 550.1 L747.9 550.3 L747.6 550.5"/>
<path d="M745.1 537.9 L745.5 537.7 L745.8 537.5 L746.2 537.4 L746.6 537.3 L747.1 537.4 L747.6 537.5 L748.0 537.7 L748.5 537.9 L749.0 538.2 L749.5 538.6 L750.0 539.0 L750.4 539.5 L750.9 540.0 L751.3 540.6 L751.6 541.1 L752.0 541.8 L752.2 542.4 L752.5 543.0 L752.7 543.7 L752.8 544.3 L752.9 544.9 L752.9 545.5 L752.9 546.0 L752.8 546.5 L752.6 547.0 L752.4 547.4 L752.2 547.7 L751.9 548.0 L751.6 548.2 L751.2 548.4"/>
<path d="M748.8 535.8 L749.1 535.6 L749.4 535.4 L749.8 535.3 L750.3 535.3 L750.7 535.3 L751.2 535.4 L751.7 535.6 L752.1 535.8 L752.6 536.1 L753.1 536.5 L753.6 536.9 L754.0 537.4 L754.5 537.9 L754.9 538.5 L755.2 539.1 L755.6 539.7 L755.9 540.3 L756.1 540.9 L756.3 541.6 L756.4 542.2 L756.5 542.8 L756.5 543.4 L756.5 543.9 L756.4 544.4 L756.2 544.9 L756.0 545.3 L755.8 545.6 L755.5 545.9 L755.2 546.1 L754.8 546.3"/>
<path d="M752.4 533.7 L752.7 533.5 L753.0 533.3 L753.4 533.2 L753.9 533.2 L754.3 533.2 L754.8 533.3 L755.3 533.5 L755.8 533.7 L756.3 534.0 L756.7 534.4 L757.2 534.8 L757.7 535.3 L758.1 535.8 L758.5 536.4 L758.9 537.0 L759.2 537.6 L759.5 538.2 L759.7 538.8 L759.9 539.5 L760.0 540.1 L760.1 540.7 L760.1 541.3 L760.1 541.8 L760.0 542.3 L759.9 542.8 L759.7 543.2 L759.4 543.6 L759.1 543.8 L758.8 544.1 L758.4 544.2"/>
<path d="M756.0 531.7 L756.3 531.4 L756.7 531.2 L757.1 531.1 L757.5 531.1 L757.9 531.1 L758.4 531.2 L758.9 531.4 L759.4 531.6 L759.9 531.9 L760.4 532.3 L760.8 532.7 L761.3 533.2 L761.7 533.7 L762.1 534.3 L762.5 534.9 L762.8 535.5 L763.1 536.1 L763.3 536.8 L763.5 537.4 L763.6 538.0 L763.7 538.6 L763.7 539.2 L763.7 539.7 L763.6 540.3 L763.5 540.7 L763.3 541.1 L763.0 541.5 L762.7 541.8 L762.4 542.0 L762.0 542.1"/>
<path d="M726.8 561.9 L726.3 562.1 L725.8 562.2 L725.2 562.2 L724.6 562.0 L724.0 561.7 L723.4 561.3 L722.8 560.7 L722.2 560.1 L721.7 559.5 L721.2 558.7 L720.8 557.9 L720.5 557.1 L720.2 556.3 L720.1 555.6 L720.0 554.8 L720.1 554.1 L720.2 553.5 L720.5 553.0 L720.8 552.6 L721.2 552.3 L721.7 552.1 L722.2 552.0 L722.8 552.0 L723.4 552.2 L724.0 552.5 L724.6 552.9 L725.2 553.5 L725.8 554.1 L726.3 554.7 L726.8 555.5 L727.2 556.3 L727.5 557.1 L727.8 557.9 L727.9 558.6 L728.0 559.4 L727.9 560.1 L727.8 560.7 L727.5 561.2 L727.2 561.6 L726.8 561.9 Z" class="w"/>
<path d="M727.0 560.0 L726.6 560.1 L726.1 560.1 L725.5 560.0 L724.9 559.7 L724.3 559.2 L723.8 558.7 L723.3 558.0 L722.8 557.3 L722.5 556.5 L722.3 555.8 L722.2 555.0 L722.2 554.4 L722.4 553.8 L722.7 553.4 L723.0 553.0 L723.5 552.9 L724.0 552.9 L724.6 553.0 L725.2 553.3 L725.8 553.8 L726.3 554.3 L726.8 555.0 L727.2 555.7 L727.6 556.5 L727.8 557.2 L727.9 558.0 L727.8 558.6 L727.7 559.2 L727.4 559.6 L727.0 560.0 Z"/>
<path d="M466.1 851.6 L435.7 869.4"/>
<path d="M496.0 843.6 L495.5 843.8 L495.0 844.0 L494.5 844.0 L494.0 844.0 L493.4 843.9 L492.8 843.7 L492.3 843.4 L491.7 843.1 L491.1 842.6 L490.5 842.2 L489.9 841.6 L489.4 841.0 L488.9 840.4 L488.4 839.7 L488.0 839.0 L487.6 838.3 L487.2 837.5 L486.9 836.8 L486.7 836.0 L486.5 835.2 L486.4 834.5 L486.3 833.8 L486.3 833.1 L486.4 832.5 L486.5 831.9 L486.7 831.3 L486.9 830.8 L487.2 830.4 L487.6 830.1 L488.0 829.8 L492.3 827.3 L492.7 827.1 L493.2 826.9 L493.7 826.9 L494.3 826.9 L494.8 827.0 L495.4 827.2 L496.0 827.5 L496.6 827.8 L497.2 828.3 L497.8 828.7 L498.3 829.3 L498.9 829.9 L499.4 830.5 L499.9 831.2 L500.3 831.9 L500.7 832.6 L501.0 833.4 L501.3 834.1 L501.6 834.9 L501.8 835.7 L501.9 836.4 L501.9 837.1 L501.9 837.8 L501.9 838.4 L501.8 839.0 L501.6 839.6 L501.3 840.1 L501.0 840.5 L500.7 840.8 L500.3 841.1 Z" class="w"/>
<path d="M491.0 829.7 L495.3 827.2"/>
<path d="M495.6 833.8 L499.9 831.3"/>
<path d="M497.6 840.0 L501.9 837.5"/>
<path d="M493.6 828.3 L494.2 828.2 L494.8 828.3 L495.4 828.4 L496.0 828.7 L496.7 829.1 L497.3 829.6 L498.0 830.2 L498.5 830.8 L499.1 831.5 L499.6 832.3 L500.0 833.1 L500.3 833.9 L500.6 834.8 L500.8 835.6 L500.9 836.4 L500.9 837.2 L500.8 837.9 L500.7 838.5 L500.4 839.0 L500.1 839.5"/>
<path d="M495.4 847.0 L494.9 847.2 L494.5 847.3 L494.0 847.4 L493.5 847.5 L492.9 847.5 L492.4 847.4 L491.8 847.2 L491.2 847.0 L490.6 846.8 L490.1 846.5 L489.5 846.1 L488.9 845.7 L488.3 845.2 L487.7 844.7 L487.2 844.1 L486.7 843.5 L486.1 842.9 L485.7 842.3 L485.2 841.6 L484.8 840.9 L484.4 840.1 L484.0 839.4 L483.7 838.6 L483.4 837.9 L483.1 837.1 L482.9 836.4 L482.8 835.6 L482.7 834.9 L482.6 834.2 L482.6 833.5 L482.6 832.8 L482.7 832.2 L482.8 831.6 L482.9 831.0 L483.1 830.5 L483.4 830.0 L483.7 829.6 L484.0 829.2 L484.4 828.9 L484.8 828.6 L486.7 827.5 L487.1 827.3 L487.6 827.2 L488.0 827.1 L488.6 827.0 L489.1 827.0 L489.6 827.1 L490.2 827.3 L490.8 827.5 L491.4 827.7 L492.0 828.0 L492.6 828.4 L493.1 828.8 L493.7 829.3 L494.3 829.8 L494.8 830.4 L495.4 831.0 L495.9 831.6 L496.4 832.2 L496.8 832.9 L497.3 833.6 L497.7 834.4 L498.0 835.1 L498.4 835.9 L498.6 836.6 L498.9 837.4 L499.1 838.1 L499.3 838.9 L499.4 839.6 L499.4 840.3 L499.5 841.0 L499.4 841.7 L499.4 842.3 L499.3 842.9 L499.1 843.5 L498.9 844.0 L498.6 844.5 L498.4 844.9 L498.0 845.3 L497.7 845.6 L497.3 845.9 Z" class="w"/>
<path d="M495.4 847.0 L494.7 847.3 L493.9 847.5 L493.0 847.5 L492.1 847.3 L491.2 847.0 L490.3 846.6 L489.4 846.0 L488.4 845.3 L487.5 844.5 L486.7 843.5 L485.8 842.5 L485.1 841.4 L484.4 840.3 L483.9 839.1 L483.4 837.9 L483.0 836.7 L482.7 835.5 L482.6 834.3 L482.6 833.2 L482.7 832.2 L482.9 831.2 L483.2 830.4 L483.6 829.7 L484.1 829.1 L484.8 828.6 L485.5 828.3 L486.2 828.1 L487.1 828.1 L488.0 828.3 L488.9 828.6 L489.8 829.0 L490.8 829.6 L491.7 830.3 L492.6 831.1 L493.5 832.1 L494.3 833.1 L495.0 834.2 L495.7 835.3 L496.3 836.5 L496.7 837.7 L497.1 838.9 L497.4 840.1 L497.5 841.3 L497.5 842.4 L497.5 843.4 L497.3 844.4 L496.9 845.2 L496.5 845.9 L496.0 846.5 L495.4 847.0 Z"/>
<path d="M471.3 853.7 L471.1 853.8 L470.8 853.9 L470.5 853.9 L470.2 853.9 L469.9 853.8 L469.6 853.7 L469.3 853.6 L468.9 853.4 L468.6 853.2 L468.3 852.9 L468.0 852.6 L467.7 852.3 L467.4 851.9 L467.1 851.6 L466.9 851.2 L466.7 850.8 L466.5 850.4 L466.3 849.9 L466.2 849.5 L466.1 849.1 L466.0 848.7 L466.0 848.3 L466.0 847.9 L466.0 847.6 L466.1 847.2 L466.2 846.9 L466.3 846.7 L466.5 846.4 L466.7 846.2 L466.9 846.1 L487.9 834.0 L488.1 833.9 L488.4 833.8 L488.6 833.8 L488.9 833.8 L489.3 833.9 L489.6 834.0 L489.9 834.1 L490.2 834.3 L490.5 834.5 L490.9 834.8 L491.2 835.1 L491.5 835.4 L491.8 835.8 L492.0 836.1 L492.3 836.5 L492.5 836.9 L492.7 837.3 L492.8 837.8 L493.0 838.2 L493.1 838.6 L493.1 839.0 L493.2 839.4 L493.2 839.8 L493.1 840.1 L493.1 840.5 L493.0 840.8 L492.8 841.0 L492.7 841.3 L492.5 841.5 L492.3 841.6 Z" class="w"/>
<path d="M468.4 844.7 L468.6 844.5 L468.9 844.4 L469.2 844.3 L469.6 844.3 L469.9 844.3 L470.3 844.4 L470.7 844.5 L471.1 844.7 L471.5 845.0 L471.9 845.3 L472.2 845.6 L472.6 846.0 L473.0 846.4 L473.3 846.8 L473.6 847.3 L473.8 847.8 L474.1 848.3 L474.2 848.8 L474.4 849.3 L474.5 849.8 L474.6 850.3 L474.6 850.8 L474.6 851.2 L474.5 851.6 L474.4 852.0 L474.2 852.3 L474.0 852.6 L473.8 852.8 L473.5 853.0 L473.2 853.1"/>
<path d="M470.9 843.3 L471.1 843.1 L471.4 842.9 L471.7 842.8 L472.1 842.8 L472.4 842.8 L472.8 842.9 L473.2 843.1 L473.6 843.2 L474.0 843.5 L474.4 843.8 L474.8 844.1 L475.1 844.5 L475.5 844.9 L475.8 845.4 L476.1 845.9 L476.4 846.4 L476.6 846.9 L476.8 847.4 L476.9 847.9 L477.0 848.4 L477.1 848.9 L477.1 849.3 L477.1 849.8 L477.0 850.2 L476.9 850.5 L476.7 850.9 L476.5 851.1 L476.3 851.4 L476.0 851.6 L475.7 851.7"/>
<path d="M473.4 841.8 L473.7 841.6 L473.9 841.5 L474.3 841.4 L474.6 841.3 L475.0 841.4 L475.3 841.5 L475.7 841.6 L476.1 841.8 L476.5 842.0 L476.9 842.3 L477.3 842.7 L477.7 843.1 L478.0 843.5 L478.3 843.9 L478.6 844.4 L478.9 844.9 L479.1 845.4 L479.3 845.9 L479.4 846.4 L479.6 846.9 L479.6 847.4 L479.6 847.9 L479.6 848.3 L479.5 848.7 L479.4 849.1 L479.3 849.4 L479.1 849.7 L478.8 849.9 L478.6 850.1 L478.3 850.2"/>
<path d="M475.9 840.4 L476.2 840.2 L476.5 840.0 L476.8 839.9 L477.1 839.9 L477.5 839.9 L477.9 840.0 L478.3 840.1 L478.7 840.3 L479.0 840.6 L479.4 840.9 L479.8 841.2 L480.2 841.6 L480.5 842.0 L480.9 842.5 L481.1 842.9 L481.4 843.4 L481.6 843.9 L481.8 844.5 L482.0 845.0 L482.1 845.5 L482.1 845.9 L482.2 846.4 L482.1 846.9 L482.1 847.3 L481.9 847.6 L481.8 848.0 L481.6 848.2 L481.4 848.5 L481.1 848.6 L480.8 848.8"/>
<path d="M478.5 838.9 L478.7 838.7 L479.0 838.6 L479.3 838.5 L479.7 838.4 L480.0 838.5 L480.4 838.5 L480.8 838.7 L481.2 838.9 L481.6 839.1 L482.0 839.4 L482.3 839.8 L482.7 840.1 L483.1 840.6 L483.4 841.0 L483.7 841.5 L483.9 842.0 L484.2 842.5 L484.3 843.0 L484.5 843.5 L484.6 844.0 L484.7 844.5 L484.7 845.0 L484.7 845.4 L484.6 845.8 L484.5 846.2 L484.3 846.5 L484.1 846.8 L483.9 847.0 L483.6 847.2 L483.3 847.3"/>
<path d="M481.0 837.4 L481.2 837.2 L481.5 837.1 L481.8 837.0 L482.2 837.0 L482.5 837.0 L482.9 837.1 L483.3 837.2 L483.7 837.4 L484.1 837.7 L484.5 838.0 L484.9 838.3 L485.2 838.7 L485.6 839.1 L485.9 839.6 L486.2 840.0 L486.5 840.5 L486.7 841.0 L486.9 841.5 L487.0 842.0 L487.1 842.5 L487.2 843.0 L487.2 843.5 L487.2 843.9 L487.1 844.3 L487.0 844.7 L486.8 845.0 L486.6 845.3 L486.4 845.5 L486.1 845.7 L485.8 845.8"/>
<path d="M483.5 836.0 L483.8 835.8 L484.0 835.6 L484.4 835.5 L484.7 835.5 L485.1 835.5 L485.4 835.6 L485.8 835.8 L486.2 836.0 L486.6 836.2 L487.0 836.5 L487.4 836.8 L487.8 837.2 L488.1 837.6 L488.4 838.1 L488.7 838.6 L489.0 839.1 L489.2 839.6 L489.4 840.1 L489.5 840.6 L489.7 841.1 L489.7 841.6 L489.7 842.0 L489.7 842.5 L489.6 842.9 L489.5 843.3 L489.4 843.6 L489.2 843.9 L488.9 844.1 L488.7 844.3 L488.4 844.4"/>
<path d="M486.0 834.5 L486.3 834.3 L486.6 834.2 L486.9 834.1 L487.2 834.1 L487.6 834.1 L488.0 834.2 L488.4 834.3 L488.8 834.5 L489.1 834.8 L489.5 835.0 L489.9 835.4 L490.3 835.8 L490.6 836.2 L491.0 836.6 L491.2 837.1 L491.5 837.6 L491.7 838.1 L491.9 838.6 L492.1 839.1 L492.2 839.6 L492.2 840.1 L492.3 840.6 L492.2 841.0 L492.2 841.4 L492.0 841.8 L491.9 842.1 L491.7 842.4 L491.5 842.6 L491.2 842.8 L490.9 842.9"/>
<path d="M471.3 853.7 L470.9 853.9 L470.5 853.9 L470.1 853.9 L469.6 853.7 L469.1 853.5 L468.6 853.2 L468.1 852.8 L467.7 852.3 L467.3 851.8 L466.9 851.2 L466.6 850.6 L466.3 849.9 L466.1 849.3 L466.0 848.7 L466.0 848.1 L466.0 847.6 L466.1 847.1 L466.3 846.7 L466.6 846.3 L466.9 846.1 L467.3 845.9 L467.7 845.9 L468.1 845.9 L468.6 846.1 L469.1 846.3 L469.6 846.6 L470.1 847.0 L470.5 847.5 L470.9 848.0 L471.3 848.6 L471.6 849.2 L471.9 849.9 L472.1 850.5 L472.2 851.1 L472.2 851.7 L472.2 852.2 L472.1 852.7 L471.9 853.1 L471.6 853.5 L471.3 853.7 Z" class="w"/>
<path d="M471.5 851.7 L471.2 851.8 L470.8 851.8 L470.4 851.7 L470.0 851.5 L469.6 851.2 L469.2 850.8 L468.9 850.4 L468.6 849.9 L468.4 849.3 L468.2 848.8 L468.2 848.3 L468.2 847.8 L468.3 847.4 L468.5 847.1 L468.7 846.9 L469.1 846.8 L469.4 846.8 L469.8 846.9 L470.2 847.1 L470.7 847.4 L471.0 847.8 L471.4 848.2 L471.7 848.7 L471.9 849.3 L472.1 849.8 L472.1 850.3 L472.1 850.8 L472.0 851.2 L471.8 851.5 L471.5 851.7 Z"/>
<path d="M496.0 846.5 L496.0 995.2 L354.6 995.2 L354.6 983.2"/>
<path d="M425.0 995.2 L425.0 1022.3"/>
<path d="M418.6 841.2 L418.6 868.4"/>
<path d="M111.0 734.6 C111.0 724.2 110.4 685.0 111.0 672.0 C111.5 658.9 112.0 661.0 114.1 656.3 C116.2 651.6 119.6 647.1 123.5 643.8 C127.4 640.5 132.9 638.0 137.6 636.7 C142.3 635.4 147.2 635.4 151.7 636.0 C156.1 636.5 160.5 638.3 164.2 639.9 C167.9 641.4 172.0 644.4 173.6 645.4"/>
<path d="M124.3 736.5 C124.3 725.7 123.6 684.8 124.3 672.0 C124.9 659.1 126.2 662.8 128.2 659.5 C130.1 656.1 133.1 653.4 136.0 651.6 C138.9 649.8 142.3 648.7 145.4 648.5 C148.5 648.2 151.4 648.9 154.8 650.1 C158.2 651.2 163.9 654.6 165.8 655.5"/>
<path d="M173.6 645.4 C174.1 645.9 176.2 647.2 176.4 648.5 C176.6 649.8 175.7 651.9 174.9 653.2 C174.0 654.5 172.5 655.8 171.2 656.3 C170.0 656.8 168.2 656.4 167.3 656.3 C166.4 656.2 165.8 656.6 165.8 655.5 C165.7 654.5 166.2 651.6 167.0 650.1 C167.8 648.5 169.4 646.9 170.5 646.1 C171.6 645.4 173.1 645.5 173.6 645.4"/>
<path d="M111.0 734.6 C111.1 735.3 111.1 737.6 111.7 738.5 C112.4 739.4 113.9 740.2 114.9 740.1 C115.8 740.0 116.9 738.1 117.5 738.1 C118.2 738.1 118.2 739.6 118.8 740.1 C119.4 740.6 120.3 741.1 121.1 740.9 C122.0 740.7 123.3 739.6 123.8 738.8 C124.3 738.1 124.2 736.9 124.3 736.5"/>
<path d="M112.2 736.5 C112.6 736.2 113.6 734.8 114.4 734.6 C115.2 734.5 116.4 735.0 116.9 735.6 C117.4 736.1 117.4 737.6 117.5 738.1"/>
<path d="M111.0 765.9 C111.0 763.1 110.8 752.1 111.0 748.7 C111.1 745.3 111.2 746.3 111.9 745.6 C112.6 744.8 114.0 744.3 114.9 744.3 C115.8 744.4 116.6 745.8 117.2 745.9 C117.8 746.0 117.8 745.1 118.5 744.8 C119.1 744.5 120.3 744.1 121.1 744.3 C122.0 744.5 123.3 745.2 123.8 745.9 C124.3 746.6 124.2 745.4 124.3 748.7 C124.4 752.0 124.3 763.1 124.3 765.9"/>
<path d="M117.2 745.9 C117.3 746.4 117.0 748.2 117.5 749.0 C118.1 749.9 119.4 750.9 120.4 751.1 C121.3 751.2 122.5 750.6 123.2 750.0 C123.8 749.4 124.1 747.9 124.3 747.5"/>
<path d="M168.6 649.4 L190.5 663.5"/>
<path d="M167.4 652.5 L185.8 665.8"/>
<path d="M167.8 655.7 L185.1 667.0"/>
<path d="M178.0 658.2 L189.8 664.0"/>
<path d="M192.1 668.2 L202.3 662.3 L220.3 672.5 L210.1 677.2 Z" class="w"/>
<path d="M192.1 668.2 L210.1 677.2 L210.5 685.8 L192.1 676.8 Z" class="w"/>
<path d="M210.1 677.2 L220.3 672.5 L221.1 680.7 L210.5 685.8 Z" class="w"/>
<ellipse cx="213.5" cy="680.6" rx="0.9" ry="1.1" class="k"/>
<ellipse cx="217.2" cy="678.5" rx="0.9" ry="1.1" class="k"/>
<path d="M184.7 668.6 L189.0 666.6 L191.3 667.8 L191.3 676.8 L187.4 678.8 L184.7 677.2 Z" class="w"/>
<path d="M184.7 668.6 L187.4 670.1 L191.3 668.0"/>
<path d="M187.4 670.1 L187.4 678.8"/>
<path d="M190.5 658.0 L197.6 654.1 L201.5 656.1 L201.5 661.1 L199.2 662.3 L192.9 666.6 L190.9 665.8 Z" class="w"/>
<path d="M190.5 658.0 L192.9 659.6 L199.5 655.4"/>
<path d="M192.9 659.6 L192.9 666.6"/>
<path d="M193.8 660.2 L199.2 657.4 L199.2 661.0 L193.8 663.5 Z" class="k"/>
<path d="M202.3 658.6 L205.4 657.2 L207.0 658.8 L207.0 662.9"/>
<path d="M110.7 766.0 L110.7 823.0"/>
<path d="M124.2 766.0 L124.2 823.0"/>
<path d="M124.2 823.0 L124.2 823.4 L124.1 823.7 L123.9 824.1 L123.6 824.4 L123.3 824.8 L122.9 825.1 L122.5 825.3 L122.0 825.6 L121.4 825.8 L120.8 826.0 L120.2 826.2 L119.5 826.3 L118.9 826.4 L118.2 826.5 L117.5 826.5 L116.7 826.5 L116.0 826.4 L115.4 826.3 L114.7 826.2 L114.1 826.0 L113.5 825.8 L112.9 825.6 L112.4 825.3 L112.0 825.1 L111.6 824.8 L111.3 824.4 L111.0 824.1 L110.8 823.7 L110.7 823.4 L110.7 823.0"/>
<path d="M115.2 826.7 C115.7 828.3 116.0 833.1 117.9 836.5 C119.8 840.0 122.1 843.7 126.8 847.3 C131.6 850.9 143.0 856.2 146.2 858.0"/>
<path d="M118.8 827.0 C119.4 828.5 120.4 832.9 122.4 835.6 C124.3 838.4 126.5 841.0 130.4 843.7 C134.4 846.4 143.5 850.4 146.2 851.7"/>
<path d="M123.3 825.3 C123.9 826.4 124.8 829.7 126.8 832.1 C128.9 834.4 132.6 837.0 135.8 839.2 C139.0 841.4 144.4 844.1 146.2 845.1"/>
<path d="M117.0 827.0 C117.5 828.6 118.1 833.1 120.0 836.2 C122.0 839.2 124.3 842.4 128.6 845.5 C133.0 848.6 143.3 853.2 146.2 854.8"/>
<path d="M171.6 859.4 L198.8 873.2"/>
<path d="M171.6 864.3 L198.8 878.1"/>
<path d="M171.6 869.6 L198.8 883.4"/>
<path d="M171.6 874.1 L198.8 887.9"/>
<path d="M146.4 840.8 C147.6 839.9 151.6 836.7 153.4 835.7 C155.3 834.8 156.2 834.9 157.4 835.1 C158.7 835.2 159.8 836.2 160.8 836.7 C161.8 837.3 162.8 837.7 163.5 838.4 C164.2 839.1 164.6 840.0 164.8 841.1 C165.1 842.2 164.8 844.5 164.8 845.1 L160.1 852.5 L151.7 847.1 L151.1 843.5 Z" class="w"/>
<path d="M151.1 843.5 L159.5 838.4 L163.5 838.4"/>
<path d="M155.1 845.5 C155.9 845.0 158.8 842.6 160.1 842.4 C161.5 842.3 162.2 843.7 163.2 844.5 C164.1 845.2 165.4 846.4 165.8 846.8"/>
<path d="M162.8 850.5 C163.9 849.6 167.7 846.1 169.5 845.1 C171.3 844.2 172.2 844.5 173.6 844.8 C174.9 845.1 176.5 846.1 177.6 846.8 C178.7 847.5 179.8 848.8 180.3 849.2 L180.3 876.0 L167.2 884.4 L167.2 852.5 Z" class="w"/>
<path d="M167.2 852.5 L179.6 848.2"/>
<path d="M146.4 840.8 L151.1 843.5 L151.1 843.5 C151.2 844.1 151.0 845.9 151.7 847.1 C152.5 848.4 154.0 849.9 155.4 850.8 C156.8 851.7 158.9 852.6 160.1 852.5 C161.4 852.5 162.4 850.8 162.8 850.5 L167.2 852.5 L167.2 884.4 L163.2 882.7 L163.2 882.7 C162.9 882.2 162.7 880.8 161.5 879.4 C160.3 878.0 157.7 875.4 156.1 874.3 C154.5 873.3 153.0 872.9 152.1 873.0 C151.2 873.0 151.0 874.4 150.7 874.7 L146.4 872.3 Z" class="w"/>
<path d="M171.6 859.4 L178.7 863.0"/>
<path d="M171.6 864.3 L178.7 867.9"/>
<path d="M171.6 869.6 L178.7 873.2"/>
<path d="M171.6 874.1 L178.7 877.7"/>
<path d="M223.8 890.2 L245.0 901.3"/>
<path d="M223.8 894.7 L243.2 904.9"/>
<path d="M223.8 899.5 L242.3 909.0"/>
<path d="M223.8 904.0 L241.4 913.5"/>
<path d="M198.6 871.6 C199.8 870.7 203.8 867.5 205.7 866.5 C207.5 865.6 208.5 865.7 209.7 865.9 C210.9 866.0 212.1 867.0 213.1 867.5 C214.1 868.1 215.1 868.5 215.7 869.2 C216.4 869.9 216.9 870.8 217.1 871.9 C217.3 873.0 217.1 875.2 217.1 875.9 L212.4 883.3 L204.0 877.9 L203.3 874.2 Z" class="w"/>
<path d="M203.3 874.2 L211.7 869.2 L215.7 869.2"/>
<path d="M207.4 876.3 C208.2 875.7 211.1 873.4 212.4 873.2 C213.7 873.1 214.5 874.5 215.4 875.2 C216.4 876.0 217.7 877.2 218.1 877.6"/>
<path d="M215.1 881.3 C216.2 880.4 220.0 876.9 221.8 875.9 C223.6 875.0 224.5 875.3 225.8 875.6 C227.2 875.9 228.7 876.9 229.8 877.6 C231.0 878.3 232.1 879.6 232.5 879.9 L232.5 906.8 L219.4 915.2 L219.4 883.3 Z" class="w"/>
<path d="M219.4 883.3 L231.9 878.9"/>
<path d="M198.6 871.6 L203.3 874.2 L203.3 874.2 C203.4 874.9 203.3 876.7 204.0 877.9 C204.7 879.2 206.3 880.7 207.7 881.6 C209.1 882.5 211.2 883.4 212.4 883.3 C213.6 883.2 214.6 881.6 215.1 881.3 L219.4 883.3 L219.4 915.2 L215.4 913.5 L215.4 913.5 C215.1 912.9 214.9 911.5 213.7 910.1 C212.6 908.7 209.9 906.2 208.4 905.1 C206.8 904.0 205.2 903.7 204.3 903.8 C203.4 903.8 203.2 905.2 203.0 905.4 L198.6 903.1 Z" class="w"/>
<path d="M223.8 890.2 L231.0 893.8"/>
<path d="M223.8 894.7 L231.0 898.3"/>
<path d="M223.8 899.5 L231.0 903.1"/>
<path d="M223.8 904.0 L231.0 907.6"/>
<path d="M246.1 902.1 C248.8 903.7 257.1 907.9 262.2 911.9 C267.3 915.9 272.1 920.9 276.5 926.2 C281.0 931.6 285.2 939.0 289.1 944.1 C292.9 949.2 296.2 953.7 299.8 956.6 C303.4 959.6 306.7 961.7 310.5 962.0 C314.4 962.3 321.0 959.0 323.1 958.4 L328.4 966.5 C326.6 967.8 321.6 973.0 317.7 974.5 C313.8 976.0 309.3 976.3 305.2 975.4 C301.0 974.5 296.5 972.3 292.6 969.2 C288.8 966.0 285.5 962.0 281.9 956.6 C278.3 951.3 275.3 942.6 271.2 937.0 C267.0 931.3 261.8 926.8 256.8 922.6 C251.9 918.5 244.2 913.7 241.6 911.9 Z" class="w"/>
<path d="M246.8 902.8 C246.1 903.5 243.5 905.1 242.6 907.2 C241.7 909.3 241.6 913.9 241.4 915.3"/>
<path d="M323.1 958.4 C323.8 959.0 326.6 960.7 327.5 962.0 C328.4 963.4 328.3 965.7 328.4 966.5"/>
<path d="M325.7 959.7 L348.1 947.2"/>
<path d="M327.0 962.4 L349.0 950.4"/>
<path d="M328.1 964.7 L350.3 953.1"/>
<path d="M328.8 966.8 L351.7 956.6"/>
<path d="M358.6 910.7 L368.3 904.2 L372.3 904.2 L394.0 918.7 L394.0 948.9 L358.6 967.0 Z" class="w"/>
<path d="M358.6 934.8 L394.0 918.7"/>
<path d="M369.3 935.8 C369.6 933.9 371.8 931.8 373.3 930.8 C374.8 929.8 386.0 924.2 387.4 923.8 C388.8 923.3 390.2 924.1 390.4 925.8 C390.7 927.4 391.8 941.5 390.4 943.9 C389.0 946.3 375.1 954.1 373.3 955.0 C371.5 955.8 369.6 955.6 369.3 954.0 C368.9 952.4 368.9 937.8 369.3 935.8 Z"/>
<path d="M382.0 943.5 L381.4 943.7 L380.7 943.6 L379.9 943.3 L379.2 942.7 L378.4 942.0 L377.8 941.1 L377.4 940.1 L377.1 939.1 L377.0 938.2 L377.1 937.3 L377.4 936.7 L377.8 936.2 L378.4 936.0 L379.2 936.1 L379.9 936.4 L380.7 937.0 L381.4 937.8 L382.0 938.7 L382.5 939.6 L382.8 940.6 L382.9 941.6 L382.8 942.4 L382.5 943.1 L382.0 943.5 Z"/>
<path d="M378.2 937.6 L378.4 937.2 L378.6 936.9 L379.0 936.7 L379.3 936.6 L379.8 936.6 L380.2 936.7 L380.7 937.0 L381.2 937.3 L381.6 937.8 L382.0 938.3 L382.3 938.9 L382.6 939.5 L382.8 940.1 L382.9 940.7 L382.9 941.2 L382.9 941.7"/>
<path d="M341.1 922.3 C341.1 920.9 340.6 915.8 341.1 913.7 C341.5 911.6 342.4 910.7 343.7 909.7 C344.9 908.7 346.8 907.6 348.5 907.7 C350.2 907.7 352.3 908.7 353.8 910.1 C355.2 911.4 356.6 913.4 357.4 915.7 C358.2 918.0 358.4 922.4 358.6 923.8 L358.6 934.8 L333.6 923.8 Z" class="w"/>
<path d="M333.6 923.8 L358.2 935.8 L358.2 967.0 L333.6 961.0 Z" class="w"/>
<path d="M341.1 964.0 C341.1 965.7 340.9 971.4 341.5 974.1 C342.0 976.8 343.1 978.6 344.5 980.1 C345.9 981.6 348.2 982.7 350.1 983.2 C352.1 983.6 354.7 983.4 356.2 982.8 C357.6 982.1 358.4 982.1 358.8 979.5 C359.2 976.9 358.8 969.1 358.8 967.0" class="w"/>
<path d="M349.8 924.4 L349.0 924.7 L348.1 924.6 L347.1 924.1 L346.1 923.4 L345.2 922.4 L344.4 921.3 L343.8 920.0 L343.4 918.7 L343.3 917.5 L343.4 916.5 L343.8 915.6 L344.4 915.1 L345.2 914.8 L346.1 914.9 L347.1 915.3 L348.1 916.0 L349.0 917.0 L349.8 918.2 L350.4 919.4 L350.8 920.7 L350.9 921.9 L350.8 923.0 L350.4 923.8 L349.8 924.4 Z" class="w"/>
<path d="M350.4 922.8 L349.8 923.0 L349.1 922.9 L348.3 922.6 L347.5 922.0 L346.8 921.2 L346.2 920.3 L345.7 919.4 L345.4 918.4 L345.3 917.4 L345.4 916.6 L345.7 915.9 L346.2 915.5 L346.8 915.3 L347.5 915.4 L348.3 915.7 L349.1 916.3 L349.8 917.0 L350.4 917.9 L350.9 918.9 L351.2 919.9 L351.3 920.8 L351.2 921.7 L350.9 922.3 L350.4 922.8 Z"/>
<path d="M349.8 977.8 L349.0 978.0 L348.1 977.9 L347.1 977.5 L346.1 976.8 L345.2 975.8 L344.4 974.6 L343.8 973.4 L343.4 972.1 L343.3 970.9 L343.4 969.8 L343.8 969.0 L344.4 968.4 L345.2 968.2 L346.1 968.3 L347.1 968.7 L348.1 969.4 L349.0 970.4 L349.8 971.5 L350.4 972.8 L350.8 974.1 L350.9 975.3 L350.8 976.4 L350.4 977.2 L349.8 977.8 Z" class="w"/>
<path d="M350.4 976.1 L349.8 976.3 L349.1 976.2 L348.3 975.9 L347.5 975.4 L346.8 974.6 L346.2 973.7 L345.7 972.7 L345.4 971.7 L345.3 970.8 L345.4 969.9 L345.7 969.3 L346.2 968.8 L346.8 968.7 L347.5 968.7 L348.3 969.1 L349.1 969.6 L349.8 970.4 L350.4 971.3 L350.9 972.3 L351.2 973.3 L351.3 974.2 L351.2 975.0 L350.9 975.7 L350.4 976.1 Z"/>
<path d="M347.1 940.9 L350.1 938.9 L355.2 940.9 L355.2 960.0 L351.1 961.0 L347.1 958.0 Z" class="w"/>
<path d="M350.1 938.9 L351.1 942.9 L351.1 961.0"/>
<path d="M351.1 942.9 L355.2 940.9"/>
<path d="M330.0 955.4 L347.1 947.3"/>
<path d="M330.0 960.0 L348.1 951.9"/>
<path d="M330.0 964.0 L349.1 955.4"/>
<path d="M417.6 880.5 L371.3 904.6"/>
<path d="M412.1 873.4 L416.2 868.8 L420.0 869.0 L430.1 876.0 L430.1 895.6 L424.2 898.6 L417.0 886.1 L414.2 887.5 Z" class="w"/>
<path d="M420.4 881.6 L419.7 881.7 L419.0 881.6 L418.2 881.1 L417.4 880.4 L416.8 879.5 L416.3 878.5 L416.1 877.5 L416.1 876.5 L416.3 875.8 L416.8 875.3 L417.4 875.2 L418.2 875.3 L419.0 875.8 L419.7 876.5 L420.4 877.4 L420.9 878.4 L421.1 879.4 L421.1 880.4 L420.9 881.1 L420.4 881.6 Z"/>
<path d="M414.2 887.5 L416.6 885.5 L422.6 893.6 L427.7 905.6 L433.1 915.7 L433.1 948.9 L418.6 961.0 L414.2 959.0 L414.2 940.9 L412.5 938.9 L412.5 926.8 L414.2 922.8 Z" class="w"/>
<path d="M431.7 917.1 L431.7 949.7"/>
<path d="M414.2 923.8 C414.5 924.6 415.8 926.6 416.2 928.8 C416.5 931.0 416.5 934.9 416.2 936.8 C415.8 938.8 414.5 939.9 414.2 940.5"/>
</svg>
<div class="wm" style="left:43.5px;top:19.6px">© Boats.net</div>
<div class="wm" style="left:516.3px;top:19.6px">© Boats.net</div>
<div class="wm" style="left:43.5px;top:300.8px">© Boats.net</div>
<div class="wm" style="left:516.3px;top:300.8px">© Boats.net</div>
<div class="wm dark" style="left:43.5px;top:582.0px">© Boats.net</div>
<div class="wm" style="left:516.3px;top:582.0px">© Boats.net</div>
<div class="wm" style="left:43.5px;top:863.2px">© Boats.net</div>
<div class="wm" style="left:516.3px;top:863.2px">© Boats.net</div>
<div class="wm" style="left:43.5px;top:1144.4px">© Boats.net</div>
<div class="wm" style="left:516.3px;top:1144.4px">© Boats.net</div>
</body></html>
